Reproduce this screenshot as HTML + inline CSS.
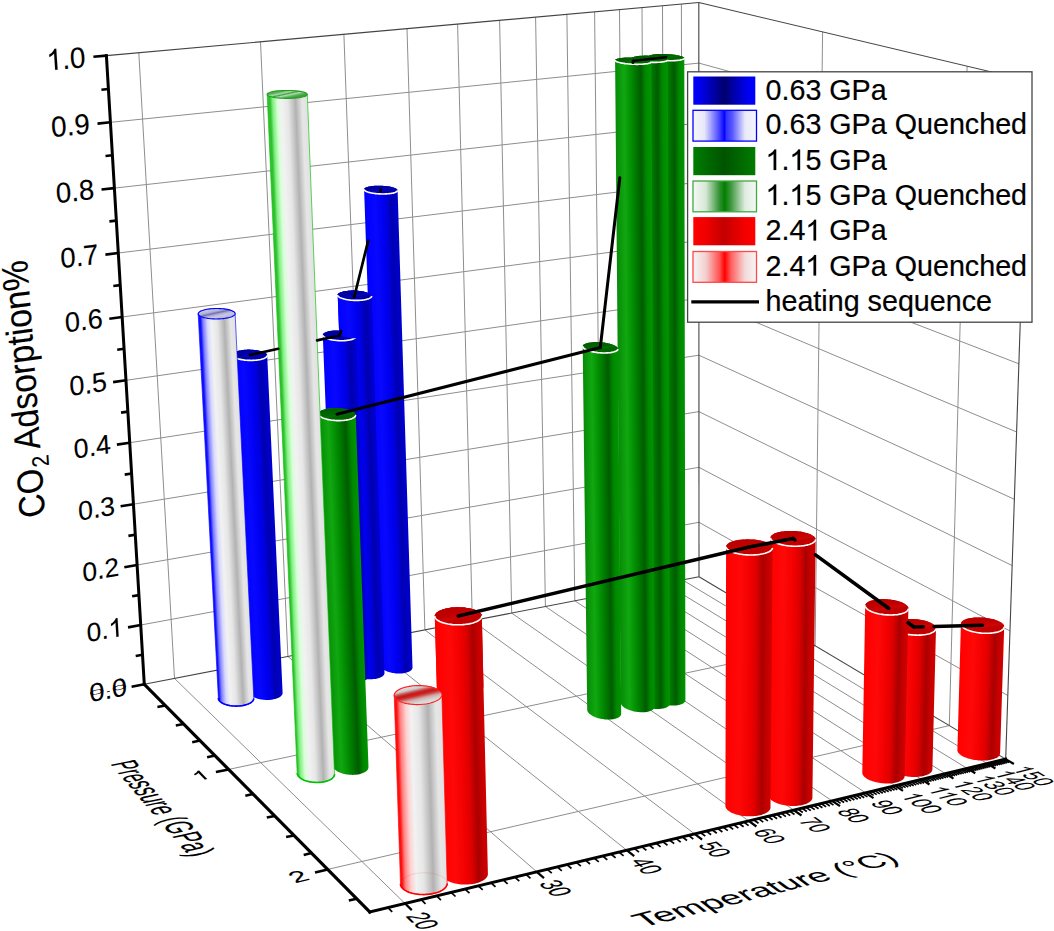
<!DOCTYPE html>
<html><head><meta charset="utf-8"><style>
html,body{margin:0;padding:0;background:#fff;}
svg{display:block;}
text{font-family:"Liberation Sans",sans-serif;fill:#000;}
.t3{font-size:20px;stroke:#000;stroke-width:0.08px;}
.lg{font-size:28.7px;stroke:#000;stroke-width:0.2px;}
.yt{font-size:33px;}
.sub{font-size:21.5px;}
.one{fill:#000;stroke:#000;stroke-width:8px;}
.onel{fill:#000;stroke:#000;stroke-width:14px;}
</style></head><body>
<svg width="1054" height="931" viewBox="0 0 1054 931">
<defs><linearGradient id="g1" gradientUnits="userSpaceOnUse" x1="372.3" y1="427.3" x2="404.9" y2="426.3"><stop offset="0" stop-color="#0000ff"/><stop offset="0.3" stop-color="#0808ff"/><stop offset="0.52" stop-color="#0000f2"/><stop offset="0.66" stop-color="#0000dc"/><stop offset="0.8" stop-color="#0000ae"/><stop offset="0.9" stop-color="#0000c4"/><stop offset="1" stop-color="#0000d0"/></linearGradient>
<linearGradient id="g2" gradientUnits="userSpaceOnUse" x1="380.1" y1="185.7" x2="381.6" y2="193.9"><stop offset="0" stop-color="#00009c"/><stop offset="0.4" stop-color="#0000aa"/><stop offset="0.55" stop-color="#0606b4"/><stop offset="0.75" stop-color="#0000a8"/><stop offset="1" stop-color="#0000aa"/></linearGradient>
<linearGradient id="g3" gradientUnits="userSpaceOnUse" x1="344.8" y1="483" x2="377.9" y2="481.8"><stop offset="0" stop-color="#0000ff"/><stop offset="0.3" stop-color="#0808ff"/><stop offset="0.52" stop-color="#0000f2"/><stop offset="0.66" stop-color="#0000dc"/><stop offset="0.8" stop-color="#0000ae"/><stop offset="0.9" stop-color="#0000c4"/><stop offset="1" stop-color="#0000d0"/></linearGradient>
<linearGradient id="g4" gradientUnits="userSpaceOnUse" x1="353.7" y1="290.7" x2="355.5" y2="300.3"><stop offset="0" stop-color="#00009c"/><stop offset="0.4" stop-color="#0000aa"/><stop offset="0.55" stop-color="#0606b4"/><stop offset="0.75" stop-color="#0000a8"/><stop offset="1" stop-color="#0000aa"/></linearGradient>
<linearGradient id="g5" gradientUnits="userSpaceOnUse" x1="329.5" y1="504.5" x2="362.2" y2="503.3"><stop offset="0" stop-color="#0000ff"/><stop offset="0.3" stop-color="#0808ff"/><stop offset="0.52" stop-color="#0000f2"/><stop offset="0.66" stop-color="#0000dc"/><stop offset="0.8" stop-color="#0000ae"/><stop offset="0.9" stop-color="#0000c4"/><stop offset="1" stop-color="#0000d0"/></linearGradient>
<linearGradient id="g6" gradientUnits="userSpaceOnUse" x1="338.6" y1="330.4" x2="340.4" y2="340.6"><stop offset="0" stop-color="#00009c"/><stop offset="0.4" stop-color="#0000aa"/><stop offset="0.55" stop-color="#0606b4"/><stop offset="0.75" stop-color="#0000a8"/><stop offset="1" stop-color="#0000aa"/></linearGradient>
<linearGradient id="g7" gradientUnits="userSpaceOnUse" x1="338.4" y1="313.8" x2="372.1" y2="312.6"><stop offset="0" stop-color="#0000ff"/><stop offset="0.3" stop-color="#0808ff"/><stop offset="0.52" stop-color="#0000f2"/><stop offset="0.66" stop-color="#0000dc"/><stop offset="0.8" stop-color="#0000ae"/><stop offset="0.9" stop-color="#0000c4"/><stop offset="1" stop-color="#0000d0"/></linearGradient>
<linearGradient id="g8" gradientUnits="userSpaceOnUse" x1="353.7" y1="290.7" x2="355.5" y2="300.3"><stop offset="0" stop-color="#00009c"/><stop offset="0.4" stop-color="#0000aa"/><stop offset="0.55" stop-color="#0606b4"/><stop offset="0.75" stop-color="#0000a8"/><stop offset="1" stop-color="#0000aa"/></linearGradient>
<linearGradient id="g9" gradientUnits="userSpaceOnUse" x1="241" y1="523.3" x2="274.8" y2="521.7"><stop offset="0" stop-color="#0000ff"/><stop offset="0.3" stop-color="#0808ff"/><stop offset="0.52" stop-color="#0000f2"/><stop offset="0.66" stop-color="#0000dc"/><stop offset="0.8" stop-color="#0000ae"/><stop offset="0.9" stop-color="#0000c4"/><stop offset="1" stop-color="#0000d0"/></linearGradient>
<linearGradient id="g10" gradientUnits="userSpaceOnUse" x1="248.9" y1="349.7" x2="251.1" y2="360.3"><stop offset="0" stop-color="#00009c"/><stop offset="0.4" stop-color="#0000aa"/><stop offset="0.55" stop-color="#0606b4"/><stop offset="0.75" stop-color="#0000a8"/><stop offset="1" stop-color="#0000aa"/></linearGradient>
<linearGradient id="g11" gradientUnits="userSpaceOnUse" x1="649.9" y1="376.2" x2="684.9" y2="376.1"><stop offset="0" stop-color="#088a08"/><stop offset="0.25" stop-color="#10a810"/><stop offset="0.48" stop-color="#008800"/><stop offset="0.72" stop-color="#005c00"/><stop offset="0.86" stop-color="#008800"/><stop offset="1" stop-color="#009400"/></linearGradient>
<linearGradient id="g12" gradientUnits="userSpaceOnUse" x1="665.6" y1="54.1" x2="666.8" y2="60.6"><stop offset="0" stop-color="#005c00"/><stop offset="0.4" stop-color="#006600"/><stop offset="0.55" stop-color="#066e06"/><stop offset="0.75" stop-color="#006400"/><stop offset="1" stop-color="#006600"/></linearGradient>
<linearGradient id="g13" gradientUnits="userSpaceOnUse" x1="633.9" y1="378.7" x2="668.9" y2="378.5"><stop offset="0" stop-color="#088a08"/><stop offset="0.25" stop-color="#10a810"/><stop offset="0.48" stop-color="#008800"/><stop offset="0.72" stop-color="#005c00"/><stop offset="0.86" stop-color="#008800"/><stop offset="1" stop-color="#009400"/></linearGradient>
<linearGradient id="g14" gradientUnits="userSpaceOnUse" x1="649.1" y1="55.7" x2="650.3" y2="62.3"><stop offset="0" stop-color="#005c00"/><stop offset="0.4" stop-color="#006600"/><stop offset="0.55" stop-color="#066e06"/><stop offset="0.75" stop-color="#006400"/><stop offset="1" stop-color="#006600"/></linearGradient>
<linearGradient id="g15" gradientUnits="userSpaceOnUse" x1="208.3" y1="506" x2="244.3" y2="504.2"><stop offset="0" stop-color="#1010ff"/><stop offset="0.04" stop-color="#1010ff"/><stop offset="0.11" stop-color="#8080ff"/><stop offset="0.23" stop-color="#d8d8ff"/><stop offset="0.34" stop-color="#f2f2f2"/><stop offset="0.5" stop-color="#e6e6e6"/><stop offset="0.7" stop-color="#b2b2b2"/><stop offset="0.87" stop-color="#e6e6e6"/><stop offset="1" stop-color="#e2e2e2"/></linearGradient>
<linearGradient id="g16" gradientUnits="userSpaceOnUse" x1="215.5" y1="308.6" x2="217.8" y2="318.9"><stop offset="0" stop-color="#c8c8e0"/><stop offset="0.25" stop-color="#b0b0d0"/><stop offset="0.42" stop-color="#7070b8"/><stop offset="0.55" stop-color="#a8a8d0"/><stop offset="0.75" stop-color="#c8c8e0"/><stop offset="1" stop-color="#b8b8d8"/></linearGradient>
<linearGradient id="g17" gradientUnits="userSpaceOnUse" x1="617.9" y1="381.3" x2="653" y2="381"><stop offset="0" stop-color="#088a08"/><stop offset="0.25" stop-color="#10a810"/><stop offset="0.48" stop-color="#008800"/><stop offset="0.72" stop-color="#005c00"/><stop offset="0.86" stop-color="#008800"/><stop offset="1" stop-color="#009400"/></linearGradient>
<linearGradient id="g18" gradientUnits="userSpaceOnUse" x1="632.6" y1="57.6" x2="633.8" y2="64.2"><stop offset="0" stop-color="#005c00"/><stop offset="0.4" stop-color="#006600"/><stop offset="0.55" stop-color="#066e06"/><stop offset="0.75" stop-color="#006400"/><stop offset="1" stop-color="#006600"/></linearGradient>
<linearGradient id="g19" gradientUnits="userSpaceOnUse" x1="584.9" y1="527.9" x2="619.5" y2="527.5"><stop offset="0" stop-color="#088a08"/><stop offset="0.25" stop-color="#10a810"/><stop offset="0.48" stop-color="#008800"/><stop offset="0.72" stop-color="#005c00"/><stop offset="0.86" stop-color="#008800"/><stop offset="1" stop-color="#009400"/></linearGradient>
<linearGradient id="g20" gradientUnits="userSpaceOnUse" x1="599.6" y1="342.2" x2="601.1" y2="352.8"><stop offset="0" stop-color="#005c00"/><stop offset="0.4" stop-color="#006600"/><stop offset="0.55" stop-color="#066e06"/><stop offset="0.75" stop-color="#006400"/><stop offset="1" stop-color="#006600"/></linearGradient>
<linearGradient id="g21" gradientUnits="userSpaceOnUse" x1="959.1" y1="687" x2="1002.2" y2="688.3"><stop offset="0" stop-color="#ff0000"/><stop offset="0.3" stop-color="#ff0808"/><stop offset="0.52" stop-color="#f20000"/><stop offset="0.66" stop-color="#dc0000"/><stop offset="0.8" stop-color="#aa0000"/><stop offset="0.9" stop-color="#c40000"/><stop offset="1" stop-color="#d00000"/></linearGradient>
<linearGradient id="g22" gradientUnits="userSpaceOnUse" x1="981.4" y1="617.6" x2="983.6" y2="633.1"><stop offset="0" stop-color="#b80000"/><stop offset="0.4" stop-color="#c40000"/><stop offset="0.55" stop-color="#cc0606"/><stop offset="0.75" stop-color="#c00000"/><stop offset="1" stop-color="#c40000"/></linearGradient>
<linearGradient id="g23" gradientUnits="userSpaceOnUse" x1="890.7" y1="695.9" x2="934.2" y2="696.9"><stop offset="0" stop-color="#ff0000"/><stop offset="0.3" stop-color="#ff0808"/><stop offset="0.52" stop-color="#f20000"/><stop offset="0.66" stop-color="#dc0000"/><stop offset="0.8" stop-color="#aa0000"/><stop offset="0.9" stop-color="#c40000"/><stop offset="1" stop-color="#d00000"/></linearGradient>
<linearGradient id="g24" gradientUnits="userSpaceOnUse" x1="912.8" y1="619.1" x2="915.2" y2="635"><stop offset="0" stop-color="#b80000"/><stop offset="0.4" stop-color="#c40000"/><stop offset="0.55" stop-color="#cc0606"/><stop offset="0.75" stop-color="#c00000"/><stop offset="1" stop-color="#c40000"/></linearGradient>
<linearGradient id="g25" gradientUnits="userSpaceOnUse" x1="863.8" y1="689" x2="906.6" y2="689.9"><stop offset="0" stop-color="#ff0000"/><stop offset="0.3" stop-color="#ff0808"/><stop offset="0.52" stop-color="#f20000"/><stop offset="0.66" stop-color="#dc0000"/><stop offset="0.8" stop-color="#aa0000"/><stop offset="0.9" stop-color="#c40000"/><stop offset="1" stop-color="#d00000"/></linearGradient>
<linearGradient id="g26" gradientUnits="userSpaceOnUse" x1="885.7" y1="599.3" x2="888" y2="614.8"><stop offset="0" stop-color="#b80000"/><stop offset="0.4" stop-color="#c40000"/><stop offset="0.55" stop-color="#cc0606"/><stop offset="0.75" stop-color="#c00000"/><stop offset="1" stop-color="#c40000"/></linearGradient>
<linearGradient id="g27" gradientUnits="userSpaceOnUse" x1="325.5" y1="589.3" x2="361.9" y2="587.9"><stop offset="0" stop-color="#088a08"/><stop offset="0.25" stop-color="#10a810"/><stop offset="0.48" stop-color="#008800"/><stop offset="0.72" stop-color="#005c00"/><stop offset="0.86" stop-color="#008800"/><stop offset="1" stop-color="#009400"/></linearGradient>
<linearGradient id="g28" gradientUnits="userSpaceOnUse" x1="335.9" y1="408.2" x2="338.2" y2="420.5"><stop offset="0" stop-color="#005c00"/><stop offset="0.4" stop-color="#006600"/><stop offset="0.55" stop-color="#066e06"/><stop offset="0.75" stop-color="#006400"/><stop offset="1" stop-color="#006600"/></linearGradient>
<linearGradient id="g29" gradientUnits="userSpaceOnUse" x1="282.2" y1="433.8" x2="320.8" y2="432.2"><stop offset="0" stop-color="#30c030"/><stop offset="0.04" stop-color="#30c030"/><stop offset="0.11" stop-color="#80f080"/><stop offset="0.23" stop-color="#d8ffd8"/><stop offset="0.34" stop-color="#f2f2f2"/><stop offset="0.5" stop-color="#e6e6e6"/><stop offset="0.7" stop-color="#b2b2b2"/><stop offset="0.87" stop-color="#e6e6e6"/><stop offset="1" stop-color="#e2e2e2"/></linearGradient>
<linearGradient id="g30" gradientUnits="userSpaceOnUse" x1="286.4" y1="90.5" x2="288.1" y2="98.3"><stop offset="0" stop-color="#58b058"/><stop offset="0.25" stop-color="#a8d8a8"/><stop offset="0.42" stop-color="#40a040"/><stop offset="0.58" stop-color="#b0dcb0"/><stop offset="0.8" stop-color="#60b860"/><stop offset="1" stop-color="#40a040"/></linearGradient>
<linearGradient id="g31" gradientUnits="userSpaceOnUse" x1="769.5" y1="666.5" x2="814" y2="666.9"><stop offset="0" stop-color="#ff0000"/><stop offset="0.3" stop-color="#ff0808"/><stop offset="0.52" stop-color="#f20000"/><stop offset="0.66" stop-color="#dc0000"/><stop offset="0.8" stop-color="#aa0000"/><stop offset="0.9" stop-color="#c40000"/><stop offset="1" stop-color="#d00000"/></linearGradient>
<linearGradient id="g32" gradientUnits="userSpaceOnUse" x1="791.7" y1="531" x2="794.4" y2="546.1"><stop offset="0" stop-color="#b80000"/><stop offset="0.4" stop-color="#c40000"/><stop offset="0.55" stop-color="#cc0606"/><stop offset="0.75" stop-color="#c00000"/><stop offset="1" stop-color="#c40000"/></linearGradient>
<linearGradient id="g33" gradientUnits="userSpaceOnUse" x1="725.8" y1="676.5" x2="771.5" y2="676.8"><stop offset="0" stop-color="#ff0000"/><stop offset="0.3" stop-color="#ff0808"/><stop offset="0.52" stop-color="#f20000"/><stop offset="0.66" stop-color="#dc0000"/><stop offset="0.8" stop-color="#aa0000"/><stop offset="0.9" stop-color="#c40000"/><stop offset="1" stop-color="#d00000"/></linearGradient>
<linearGradient id="g34" gradientUnits="userSpaceOnUse" x1="747.8" y1="539.4" x2="750.8" y2="554.9"><stop offset="0" stop-color="#b80000"/><stop offset="0.4" stop-color="#c40000"/><stop offset="0.55" stop-color="#cc0606"/><stop offset="0.75" stop-color="#c00000"/><stop offset="1" stop-color="#c40000"/></linearGradient>
<linearGradient id="g35" gradientUnits="userSpaceOnUse" x1="438.5" y1="745" x2="484.8" y2="743.8"><stop offset="0" stop-color="#ff0000"/><stop offset="0.3" stop-color="#ff0808"/><stop offset="0.52" stop-color="#f20000"/><stop offset="0.66" stop-color="#dc0000"/><stop offset="0.8" stop-color="#aa0000"/><stop offset="0.9" stop-color="#c40000"/><stop offset="1" stop-color="#d00000"/></linearGradient>
<linearGradient id="g36" gradientUnits="userSpaceOnUse" x1="456.4" y1="607.4" x2="460.2" y2="624.7"><stop offset="0" stop-color="#b80000"/><stop offset="0.4" stop-color="#c40000"/><stop offset="0.55" stop-color="#cc0606"/><stop offset="0.75" stop-color="#c00000"/><stop offset="1" stop-color="#c40000"/></linearGradient>
<linearGradient id="g37" gradientUnits="userSpaceOnUse" x1="397.3" y1="789.5" x2="444.5" y2="788"><stop offset="0" stop-color="#ff1010"/><stop offset="0.04" stop-color="#ff1010"/><stop offset="0.11" stop-color="#ff8080"/><stop offset="0.23" stop-color="#ffd0d0"/><stop offset="0.34" stop-color="#f2f2f2"/><stop offset="0.5" stop-color="#e6e6e6"/><stop offset="0.7" stop-color="#b2b2b2"/><stop offset="0.87" stop-color="#e6e6e6"/><stop offset="1" stop-color="#e2e2e2"/></linearGradient>
<linearGradient id="g38" gradientUnits="userSpaceOnUse" x1="415.9" y1="685.8" x2="420.2" y2="704.3"><stop offset="0" stop-color="#dcdcdc"/><stop offset="0.14" stop-color="#cccccc"/><stop offset="0.3" stop-color="#c84040"/><stop offset="0.4" stop-color="#c81414"/><stop offset="0.52" stop-color="#cc3030"/><stop offset="0.7" stop-color="#d4a8a8"/><stop offset="0.86" stop-color="#d4d4d4"/><stop offset="1" stop-color="#dcdcdc"/></linearGradient>
<linearGradient id="g39" gradientUnits="userSpaceOnUse" x1="435.8" y1="651.3" x2="482.6" y2="650.1"><stop offset="0" stop-color="#ff0000"/><stop offset="0.3" stop-color="#ff0808"/><stop offset="0.52" stop-color="#f20000"/><stop offset="0.66" stop-color="#dc0000"/><stop offset="0.8" stop-color="#aa0000"/><stop offset="0.9" stop-color="#c40000"/><stop offset="1" stop-color="#d00000"/></linearGradient>
<linearGradient id="g40" gradientUnits="userSpaceOnUse" x1="456.4" y1="607.4" x2="460.2" y2="624.7"><stop offset="0" stop-color="#b80000"/><stop offset="0.4" stop-color="#c40000"/><stop offset="0.55" stop-color="#cc0606"/><stop offset="0.75" stop-color="#c00000"/><stop offset="1" stop-color="#c40000"/></linearGradient>
<linearGradient id="g41" gradientUnits="userSpaceOnUse" x1="693.3" y1="0" x2="755.3" y2="0"><stop offset="0" stop-color="#0000ff"/><stop offset="0.12" stop-color="#0000e8"/><stop offset="0.35" stop-color="#0000a0"/><stop offset="0.5" stop-color="#00006c"/><stop offset="0.65" stop-color="#0000a8"/><stop offset="0.88" stop-color="#0000f0"/><stop offset="1" stop-color="#0000ff"/></linearGradient>
<linearGradient id="g42" gradientUnits="userSpaceOnUse" x1="693" y1="0" x2="756.5" y2="0"><stop offset="0" stop-color="#f6f6fa"/><stop offset="0.18" stop-color="#e8e8fa"/><stop offset="0.4" stop-color="#5050ff"/><stop offset="0.5" stop-color="#0000ff"/><stop offset="0.52" stop-color="#3030ff"/><stop offset="0.62" stop-color="#5858ff"/><stop offset="0.82" stop-color="#e8e8fa"/><stop offset="1" stop-color="#f6f6fa"/></linearGradient>
<linearGradient id="g43" gradientUnits="userSpaceOnUse" x1="693.3" y1="0" x2="755.3" y2="0"><stop offset="0" stop-color="#007c00"/><stop offset="0.2" stop-color="#006c00"/><stop offset="0.5" stop-color="#005400"/><stop offset="0.8" stop-color="#006c00"/><stop offset="1" stop-color="#007c00"/></linearGradient>
<linearGradient id="g44" gradientUnits="userSpaceOnUse" x1="693" y1="0" x2="756.5" y2="0"><stop offset="0" stop-color="#f6f8f6"/><stop offset="0.2" stop-color="#d6e8d6"/><stop offset="0.42" stop-color="#309030"/><stop offset="0.5" stop-color="#008000"/><stop offset="0.6" stop-color="#409840"/><stop offset="0.82" stop-color="#e0ece0"/><stop offset="1" stop-color="#f6f8f6"/></linearGradient>
<linearGradient id="g45" gradientUnits="userSpaceOnUse" x1="693.3" y1="0" x2="755.3" y2="0"><stop offset="0" stop-color="#ff0000"/><stop offset="0.2" stop-color="#f00000"/><stop offset="0.5" stop-color="#c40000"/><stop offset="0.8" stop-color="#f00000"/><stop offset="1" stop-color="#ff0000"/></linearGradient>
<linearGradient id="g46" gradientUnits="userSpaceOnUse" x1="693" y1="0" x2="756.5" y2="0"><stop offset="0" stop-color="#f6f6f6"/><stop offset="0.2" stop-color="#f4d0d0"/><stop offset="0.42" stop-color="#ff5050"/><stop offset="0.5" stop-color="#ff0000"/><stop offset="0.6" stop-color="#ff6060"/><stop offset="0.82" stop-color="#f4dada"/><stop offset="1" stop-color="#f6f6f6"/></linearGradient></defs>
<rect width="1054" height="931" fill="#fff"/>
<line x1="174.5" y1="678.4" x2="138.8" y2="52.7" stroke="#8e8e8e" stroke-width="1"/>
<line x1="174.5" y1="678.4" x2="405" y2="903.5" stroke="#8e8e8e" stroke-width="1"/>
<line x1="287.9" y1="656.4" x2="260.5" y2="41.8" stroke="#8e8e8e" stroke-width="1"/>
<line x1="287.9" y1="656.4" x2="536.8" y2="871.8" stroke="#8e8e8e" stroke-width="1"/>
<line x1="365.9" y1="641.3" x2="343.9" y2="34.3" stroke="#8e8e8e" stroke-width="1"/>
<line x1="365.9" y1="641.3" x2="626.7" y2="850.2" stroke="#8e8e8e" stroke-width="1"/>
<line x1="424.9" y1="629.9" x2="407" y2="28.6" stroke="#8e8e8e" stroke-width="1"/>
<line x1="424.9" y1="629.9" x2="694.6" y2="833.9" stroke="#8e8e8e" stroke-width="1"/>
<line x1="472.3" y1="620.7" x2="457.6" y2="24.1" stroke="#8e8e8e" stroke-width="1"/>
<line x1="472.3" y1="620.7" x2="748.7" y2="820.9" stroke="#8e8e8e" stroke-width="1"/>
<line x1="511.7" y1="613.1" x2="499.6" y2="20.4" stroke="#8e8e8e" stroke-width="1"/>
<line x1="511.7" y1="613.1" x2="793.7" y2="810.1" stroke="#8e8e8e" stroke-width="1"/>
<line x1="545.4" y1="606.5" x2="535.6" y2="17.1" stroke="#8e8e8e" stroke-width="1"/>
<line x1="545.4" y1="606.5" x2="832.1" y2="800.9" stroke="#8e8e8e" stroke-width="1"/>
<line x1="574.8" y1="600.8" x2="566.9" y2="14.3" stroke="#8e8e8e" stroke-width="1"/>
<line x1="574.8" y1="600.8" x2="865.5" y2="792.8" stroke="#8e8e8e" stroke-width="1"/>
<line x1="600.9" y1="595.8" x2="594.6" y2="11.9" stroke="#8e8e8e" stroke-width="1"/>
<line x1="600.9" y1="595.8" x2="895.1" y2="785.7" stroke="#8e8e8e" stroke-width="1"/>
<line x1="624.3" y1="591.2" x2="619.5" y2="9.6" stroke="#8e8e8e" stroke-width="1"/>
<line x1="624.3" y1="591.2" x2="921.5" y2="779.4" stroke="#8e8e8e" stroke-width="1"/>
<line x1="645.4" y1="587.1" x2="642" y2="7.6" stroke="#8e8e8e" stroke-width="1"/>
<line x1="645.4" y1="587.1" x2="945.4" y2="773.6" stroke="#8e8e8e" stroke-width="1"/>
<line x1="664.8" y1="583.4" x2="662.5" y2="5.8" stroke="#8e8e8e" stroke-width="1"/>
<line x1="664.8" y1="583.4" x2="967.2" y2="768.4" stroke="#8e8e8e" stroke-width="1"/>
<line x1="682.5" y1="579.9" x2="681.4" y2="4.1" stroke="#8e8e8e" stroke-width="1"/>
<line x1="682.5" y1="579.9" x2="987.2" y2="763.6" stroke="#8e8e8e" stroke-width="1"/>
<line x1="140.8" y1="625" x2="699" y2="522.3" stroke="#8e8e8e" stroke-width="1"/>
<line x1="699" y1="522.3" x2="1007.8" y2="695.5" stroke="#8e8e8e" stroke-width="1"/>
<line x1="137.1" y1="565" x2="698.9" y2="467.3" stroke="#8e8e8e" stroke-width="1"/>
<line x1="698.9" y1="467.3" x2="1010" y2="631" stroke="#8e8e8e" stroke-width="1"/>
<line x1="133.5" y1="504.2" x2="698.9" y2="411.6" stroke="#8e8e8e" stroke-width="1"/>
<line x1="698.9" y1="411.6" x2="1012.2" y2="565.6" stroke="#8e8e8e" stroke-width="1"/>
<line x1="129.8" y1="442.7" x2="698.9" y2="355.2" stroke="#8e8e8e" stroke-width="1"/>
<line x1="698.9" y1="355.2" x2="1014.4" y2="499.3" stroke="#8e8e8e" stroke-width="1"/>
<line x1="126" y1="380.3" x2="698.9" y2="298.2" stroke="#8e8e8e" stroke-width="1"/>
<line x1="698.9" y1="298.2" x2="1016.6" y2="432" stroke="#8e8e8e" stroke-width="1"/>
<line x1="122.2" y1="317" x2="698.9" y2="240.5" stroke="#8e8e8e" stroke-width="1"/>
<line x1="698.9" y1="240.5" x2="1018.9" y2="363.8" stroke="#8e8e8e" stroke-width="1"/>
<line x1="118.3" y1="253" x2="698.9" y2="182.1" stroke="#8e8e8e" stroke-width="1"/>
<line x1="698.9" y1="182.1" x2="1021.2" y2="294.6" stroke="#8e8e8e" stroke-width="1"/>
<line x1="114.4" y1="188.1" x2="698.9" y2="123" stroke="#8e8e8e" stroke-width="1"/>
<line x1="698.9" y1="123" x2="1023.5" y2="224.3" stroke="#8e8e8e" stroke-width="1"/>
<line x1="110.4" y1="122.3" x2="698.9" y2="63.1" stroke="#8e8e8e" stroke-width="1"/>
<line x1="698.9" y1="63.1" x2="1025.9" y2="153" stroke="#8e8e8e" stroke-width="1"/>
<line x1="815.1" y1="645.8" x2="822.6" y2="31.9" stroke="#8e8e8e" stroke-width="1"/>
<line x1="228.7" y1="769.4" x2="815.1" y2="645.8" stroke="#8e8e8e" stroke-width="1"/>
<line x1="949.3" y1="725.6" x2="967.1" y2="66.2" stroke="#8e8e8e" stroke-width="1"/>
<line x1="327.7" y1="869.4" x2="949.3" y2="725.6" stroke="#8e8e8e" stroke-width="1"/>
<line x1="106.4" y1="55.6" x2="698.8" y2="2.5" stroke="#444444" stroke-width="1.1"/>
<line x1="699" y1="576.7" x2="698.8" y2="2.5" stroke="#444444" stroke-width="1.1"/>
<line x1="144.3" y1="684.3" x2="699" y2="576.7" stroke="#444444" stroke-width="1.1"/>
<line x1="698.8" y1="2.5" x2="1028.3" y2="80.7" stroke="#444444" stroke-width="1.1"/>
<line x1="1005.7" y1="759.1" x2="1028.3" y2="80.7" stroke="#444444" stroke-width="1.1"/>
<line x1="699" y1="576.7" x2="1005.7" y2="759.1" stroke="#444444" stroke-width="1.1"/>
<polygon points="364.1,189.3 364.1,189.1 364.2,188.8 364.4,188.6 364.6,188.3 364.9,188 365.3,187.8 365.7,187.6 366.2,187.4 366.8,187.1 367.4,186.9 368.1,186.7 368.8,186.6 369.6,186.4 370.4,186.3 371.3,186.1 372.2,186 373.2,185.9 374.2,185.8 375.2,185.8 376.2,185.7 377.3,185.7 378.3,185.7 379.4,185.7 380.5,185.7 381.6,185.7 382.7,185.8 383.8,185.9 384.8,185.9 385.9,186.1 386.9,186.2 387.9,186.3 388.9,186.5 389.8,186.6 390.7,186.8 391.6,187 392.4,187.2 393.1,187.4 393.9,187.6 394.5,187.9 395.1,188.1 395.7,188.4 396.1,188.6 396.5,188.9 396.9,189.2 397.2,189.4 397.4,189.7 397.5,190 397.6,190.3 412.5,667.3 412.5,667.8 412.4,668.2 412.3,668.7 412.1,669.1 411.8,669.5 411.4,670 411,670.4 410.6,670.7 410,671.1 409.5,671.4 408.8,671.8 408.1,672.1 407.4,672.3 406.6,672.6 405.7,672.8 404.9,673 404,673.2 403,673.3 402,673.4 401,673.5 400,673.5 399,673.5 397.9,673.5 396.9,673.5 395.8,673.4 394.8,673.3 393.8,673.1 392.7,673 391.7,672.8 390.7,672.5 389.8,672.3 388.8,672 387.9,671.7 387.1,671.4 386.2,671 385.5,670.7 384.7,670.3 384.1,669.9 383.4,669.5 382.9,669 382.3,668.6 381.9,668.1 381.5,667.7 381.2,667.2 380.9,666.7 380.8,666.3 380.6,665.8 380.6,665.3" fill="url(#g1)"/>
<polygon points="395.1,188.1 395.7,188.4 396.1,188.6 396.5,188.9 396.9,189.2 397.2,189.4 397.4,189.7 397.5,190 397.6,190.3 397.6,190.5 397.5,190.8 397.3,191.1 397.1,191.3 396.8,191.6 396.4,191.8 396,192 395.5,192.3 395,192.5 394.3,192.7 393.7,192.9 392.9,193.1 392.1,193.2 391.3,193.4 390.4,193.5 389.5,193.6 388.5,193.7 387.5,193.8 386.5,193.9 385.5,193.9 384.4,194 383.3,194 382.2,194 381.1,194 380,193.9 378.9,193.9 377.8,193.8 376.7,193.7 375.7,193.6 374.6,193.5 373.6,193.3 372.6,193.2 371.7,193 370.8,192.8 369.9,192.6 369.1,192.4 368.4,192.2 367.7,192 367,191.7 366.4,191.5 365.9,191.2 365.4,191 365,190.7 364.7,190.4 364.4,190.2 364.2,189.9 364.1,189.6 364.1,189.3 364.1,189.1 364.2,188.8 364.4,188.6 364.6,188.3 364.9,188 365.3,187.8 365.7,187.6 366.2,187.4 366.8,187.1 367.4,186.9 368.1,186.7 368.8,186.6 369.6,186.4 370.4,186.3 371.3,186.1 372.2,186 373.2,185.9 374.2,185.8 375.2,185.8 376.2,185.7 377.3,185.7 378.3,185.7 379.4,185.7 380.5,185.7 381.6,185.7 382.7,185.8 383.8,185.9 384.8,185.9 385.9,186.1 386.9,186.2 387.9,186.3 388.9,186.5 389.8,186.6 390.7,186.8 391.6,187 392.4,187.2 393.1,187.4 393.9,187.6 394.5,187.9" fill="url(#g2)"/>
<polyline points="397.6,190.3 397.6,190.5 397.5,190.8 397.3,191.1 397.1,191.3 396.8,191.6 396.4,191.8 396,192 395.5,192.3 395,192.5 394.3,192.7 393.7,192.9 392.9,193.1 392.1,193.2 391.3,193.4 390.4,193.5 389.5,193.6 388.5,193.7 387.5,193.8 386.5,193.9 385.5,193.9 384.4,194 383.3,194 382.2,194 381.1,194 380,193.9 378.9,193.9 377.8,193.8 376.7,193.7 375.7,193.6 374.6,193.5 373.6,193.3 372.6,193.2 371.7,193 370.8,192.8 369.9,192.6 369.1,192.4 368.4,192.2 367.7,192 367,191.7 366.4,191.5 365.9,191.2 365.4,191 365,190.7 364.7,190.4 364.4,190.2 364.2,189.9 364.1,189.6 364.1,189.3" fill="none" stroke="#fff" stroke-width="1.6"/>
<polygon points="337.7,295 337.7,294.6 337.8,294.3 338,294 338.3,293.7 338.6,293.4 339,293.1 339.5,292.9 340,292.6 340.6,292.4 341.3,292.1 342,291.9 342.7,291.7 343.5,291.5 344.4,291.3 345.3,291.2 346.2,291 347.2,290.9 348.2,290.8 349.3,290.7 350.3,290.7 351.4,290.6 352.5,290.6 353.6,290.6 354.7,290.7 355.8,290.7 356.9,290.8 358,290.8 359,291 360.1,291.1 361.1,291.2 362.1,291.4 363.1,291.6 364,291.8 364.9,292 365.8,292.2 366.6,292.4 367.3,292.7 368,293 368.7,293.2 369.3,293.5 369.8,293.8 370.3,294.1 370.7,294.4 371,294.8 371.2,295.1 371.4,295.4 371.5,295.7 371.6,296 384.5,672.9 384.5,673.4 384.4,673.8 384.2,674.3 384,674.7 383.7,675.2 383.3,675.6 382.9,676 382.4,676.4 381.8,676.8 381.2,677.1 380.5,677.4 379.8,677.8 379,678 378.2,678.3 377.3,678.5 376.4,678.7 375.4,678.9 374.5,679 373.5,679.1 372.4,679.2 371.4,679.3 370.3,679.3 369.3,679.3 368.2,679.2 367.1,679.2 366.1,679 365,678.9 363.9,678.7 362.9,678.5 361.9,678.3 360.9,678.1 360,677.8 359.1,677.5 358.2,677.1 357.4,676.8 356.6,676.4 355.9,676 355.2,675.6 354.6,675.2 354,674.8 353.5,674.3 353.1,673.9 352.7,673.4 352.4,672.9 352.2,672.4 352,672 351.9,671.5 351.9,671" fill="url(#g3)"/>
<polygon points="369.3,293.5 369.8,293.8 370.3,294.1 370.7,294.4 371,294.8 371.2,295.1 371.4,295.4 371.5,295.7 371.6,296 371.5,296.4 371.4,296.7 371.3,297 371,297.3 370.7,297.6 370.3,297.9 369.8,298.1 369.3,298.4 368.7,298.7 368.1,298.9 367.4,299.1 366.6,299.4 365.8,299.5 364.9,299.7 364,299.9 363.1,300 362.1,300.1 361.1,300.2 360,300.3 359,300.4 357.9,300.4 356.8,300.4 355.6,300.4 354.5,300.4 353.4,300.4 352.3,300.3 351.2,300.2 350.1,300.1 349.1,300 348,299.8 347,299.7 346,299.5 345.1,299.3 344.2,299.1 343.3,298.8 342.5,298.6 341.8,298.3 341.1,298.1 340.4,297.8 339.8,297.5 339.3,297.2 338.9,296.9 338.5,296.6 338.2,296.2 338,295.9 337.8,295.6 337.7,295.3 337.7,295 337.7,294.6 337.8,294.3 338,294 338.3,293.7 338.6,293.4 339,293.1 339.5,292.9 340,292.6 340.6,292.4 341.3,292.1 342,291.9 342.7,291.7 343.5,291.5 344.4,291.3 345.3,291.2 346.2,291 347.2,290.9 348.2,290.8 349.3,290.7 350.3,290.7 351.4,290.6 352.5,290.6 353.6,290.6 354.7,290.7 355.8,290.7 356.9,290.8 358,290.8 359,291 360.1,291.1 361.1,291.2 362.1,291.4 363.1,291.6 364,291.8 364.9,292 365.8,292.2 366.6,292.4 367.3,292.7 368,293 368.7,293.2" fill="url(#g4)"/>
<polyline points="371.6,296 371.5,296.4 371.4,296.7 371.3,297 371,297.3 370.7,297.6 370.3,297.9 369.8,298.1 369.3,298.4 368.7,298.7 368.1,298.9 367.4,299.1 366.6,299.4 365.8,299.5 364.9,299.7 364,299.9 363.1,300 362.1,300.1 361.1,300.2 360,300.3 359,300.4 357.9,300.4 356.8,300.4 355.6,300.4 354.5,300.4 353.4,300.4 352.3,300.3 351.2,300.2 350.1,300.1 349.1,300 348,299.8 347,299.7 346,299.5 345.1,299.3 344.2,299.1 343.3,298.8 342.5,298.6 341.8,298.3 341.1,298.1 340.4,297.8 339.8,297.5 339.3,297.2 338.9,296.9 338.5,296.6 338.2,296.2 338,295.9 337.8,295.6 337.7,295.3 337.7,295" fill="none" stroke="#fff" stroke-width="1.6"/>
<polygon points="322.8,334.9 322.9,334.6 323,334.2 323.2,333.9 323.4,333.6 323.8,333.3 324.1,333 324.6,332.7 325.1,332.4 325.7,332.2 326.4,331.9 327,331.7 327.8,331.5 328.6,331.3 329.4,331.1 330.3,330.9 331.3,330.8 332.2,330.7 333.2,330.6 334.2,330.5 335.3,330.4 336.3,330.4 337.4,330.4 338.5,330.4 339.6,330.4 340.6,330.4 341.7,330.5 342.8,330.6 343.8,330.7 344.9,330.9 345.9,331 346.9,331.2 347.8,331.4 348.8,331.6 349.7,331.8 350.5,332.1 351.3,332.3 352,332.6 352.7,332.9 353.4,333.2 354,333.5 354.5,333.8 354.9,334.1 355.3,334.4 355.6,334.8 355.9,335.1 356.1,335.4 356.2,335.8 356.2,336.1 368.5,676.1 368.4,676.6 368.3,677 368.2,677.5 368,677.9 367.7,678.4 367.3,678.8 366.9,679.2 366.4,679.6 365.8,680 365.2,680.3 364.5,680.6 363.8,681 363,681.2 362.2,681.5 361.4,681.7 360.5,681.9 359.5,682.1 358.6,682.2 357.6,682.3 356.6,682.4 355.5,682.5 354.5,682.5 353.4,682.5 352.4,682.4 351.3,682.3 350.2,682.2 349.2,682.1 348.2,681.9 347.1,681.7 346.2,681.5 345.2,681.2 344.3,680.9 343.4,680.6 342.5,680.3 341.7,679.9 340.9,679.6 340.2,679.2 339.5,678.8 338.9,678.3 338.3,677.9 337.9,677.4 337.4,677 337.1,676.5 336.8,676 336.5,675.6 336.4,675.1 336.3,674.6 336.2,674.1" fill="url(#g5)"/>
<polygon points="354,333.5 354.5,333.8 354.9,334.1 355.3,334.4 355.6,334.8 355.9,335.1 356.1,335.4 356.2,335.8 356.2,336.1 356.2,336.4 356.1,336.8 355.9,337.1 355.7,337.4 355.4,337.7 355,338 354.5,338.3 354,338.6 353.4,338.9 352.8,339.1 352.1,339.4 351.3,339.6 350.5,339.8 349.7,340 348.8,340.1 347.9,340.3 346.9,340.4 345.9,340.5 344.9,340.6 343.8,340.7 342.7,340.7 341.6,340.7 340.5,340.7 339.4,340.7 338.3,340.6 337.3,340.5 336.2,340.5 335.1,340.3 334,340.2 333,340 332,339.9 331.1,339.7 330.1,339.5 329.2,339.2 328.4,339 327.6,338.7 326.9,338.4 326.2,338.2 325.5,337.9 325,337.5 324.5,337.2 324,336.9 323.7,336.6 323.3,336.2 323.1,335.9 322.9,335.6 322.8,335.2 322.8,334.9 322.9,334.6 323,334.2 323.2,333.9 323.4,333.6 323.8,333.3 324.1,333 324.6,332.7 325.1,332.4 325.7,332.2 326.4,331.9 327,331.7 327.8,331.5 328.6,331.3 329.4,331.1 330.3,330.9 331.3,330.8 332.2,330.7 333.2,330.6 334.2,330.5 335.3,330.4 336.3,330.4 337.4,330.4 338.5,330.4 339.6,330.4 340.6,330.4 341.7,330.5 342.8,330.6 343.8,330.7 344.9,330.9 345.9,331 346.9,331.2 347.8,331.4 348.8,331.6 349.7,331.8 350.5,332.1 351.3,332.3 352,332.6 352.7,332.9 353.4,333.2" fill="url(#g6)"/>
<polyline points="356.2,336.1 356.2,336.4 356.1,336.8 355.9,337.1 355.7,337.4 355.4,337.7 355,338 354.5,338.3 354,338.6 353.4,338.9 352.8,339.1 352.1,339.4 351.3,339.6 350.5,339.8 349.7,340 348.8,340.1 347.9,340.3 346.9,340.4 345.9,340.5 344.9,340.6 343.8,340.7 342.7,340.7 341.6,340.7 340.5,340.7 339.4,340.7 338.3,340.6 337.3,340.5 336.2,340.5 335.1,340.3 334,340.2 333,340 332,339.9 331.1,339.7 330.1,339.5 329.2,339.2 328.4,339 327.6,338.7 326.9,338.4 326.2,338.2 325.5,337.9 325,337.5 324.5,337.2 324,336.9 323.7,336.6 323.3,336.2 323.1,335.9 322.9,335.6 322.8,335.2 322.8,334.9" fill="none" stroke="#fff" stroke-width="1.6"/>
<polygon points="337.7,295 337.7,294.6 337.8,294.3 338,294 338.3,293.7 338.6,293.4 339,293.1 339.5,292.9 340,292.6 340.6,292.4 341.3,292.1 342,291.9 342.7,291.7 343.5,291.5 344.4,291.3 345.3,291.2 346.2,291 347.2,290.9 348.2,290.8 349.3,290.7 350.3,290.7 351.4,290.6 352.5,290.6 353.6,290.6 354.7,290.7 355.8,290.7 356.9,290.8 358,290.8 359,291 360.1,291.1 361.1,291.2 362.1,291.4 363.1,291.6 364,291.8 364.9,292 365.8,292.2 366.6,292.4 367.3,292.7 368,293 368.7,293.2 369.3,293.5 369.8,293.8 370.3,294.1 370.7,294.4 371,294.8 371.2,295.1 371.4,295.4 371.5,295.7 371.6,296 372.9,333.8 372.8,334.1 372.7,334.4 372.5,334.8 372.3,335.1 372,335.4 371.6,335.7 371.1,336 370.6,336.3 370,336.5 369.4,336.8 368.7,337 367.9,337.2 367.1,337.4 366.3,337.6 365.3,337.8 364.4,337.9 363.4,338.1 362.4,338.2 361.4,338.3 360.3,338.3 359.2,338.4 358.1,338.4 357,338.4 355.9,338.3 354.8,338.3 353.7,338.2 352.6,338.1 351.5,338 350.4,337.9 349.4,337.7 348.4,337.5 347.4,337.4 346.5,337.1 345.6,336.9 344.7,336.7 343.9,336.4 343.2,336.1 342.5,335.9 341.8,335.6 341.3,335.3 340.8,334.9 340.3,334.6 339.9,334.3 339.6,334 339.4,333.6 339.2,333.3 339.1,332.9 339.1,332.6" fill="url(#g7)"/>
<polygon points="369.3,293.5 369.8,293.8 370.3,294.1 370.7,294.4 371,294.8 371.2,295.1 371.4,295.4 371.5,295.7 371.6,296 371.5,296.4 371.4,296.7 371.3,297 371,297.3 370.7,297.6 370.3,297.9 369.8,298.1 369.3,298.4 368.7,298.7 368.1,298.9 367.4,299.1 366.6,299.4 365.8,299.5 364.9,299.7 364,299.9 363.1,300 362.1,300.1 361.1,300.2 360,300.3 359,300.4 357.9,300.4 356.8,300.4 355.6,300.4 354.5,300.4 353.4,300.4 352.3,300.3 351.2,300.2 350.1,300.1 349.1,300 348,299.8 347,299.7 346,299.5 345.1,299.3 344.2,299.1 343.3,298.8 342.5,298.6 341.8,298.3 341.1,298.1 340.4,297.8 339.8,297.5 339.3,297.2 338.9,296.9 338.5,296.6 338.2,296.2 338,295.9 337.8,295.6 337.7,295.3 337.7,295 337.7,294.6 337.8,294.3 338,294 338.3,293.7 338.6,293.4 339,293.1 339.5,292.9 340,292.6 340.6,292.4 341.3,292.1 342,291.9 342.7,291.7 343.5,291.5 344.4,291.3 345.3,291.2 346.2,291 347.2,290.9 348.2,290.8 349.3,290.7 350.3,290.7 351.4,290.6 352.5,290.6 353.6,290.6 354.7,290.7 355.8,290.7 356.9,290.8 358,290.8 359,291 360.1,291.1 361.1,291.2 362.1,291.4 363.1,291.6 364,291.8 364.9,292 365.8,292.2 366.6,292.4 367.3,292.7 368,293 368.7,293.2" fill="url(#g8)"/>
<polyline points="371.6,296 371.5,296.4 371.4,296.7 371.3,297 371,297.3 370.7,297.6 370.3,297.9 369.8,298.1 369.3,298.4 368.7,298.7 368.1,298.9 367.4,299.1 366.6,299.4 365.8,299.5 364.9,299.7 364,299.9 363.1,300 362.1,300.1 361.1,300.2 360,300.3 359,300.4 357.9,300.4 356.8,300.4 355.6,300.4 354.5,300.4 353.4,300.4 352.3,300.3 351.2,300.2 350.1,300.1 349.1,300 348,299.8 347,299.7 346,299.5 345.1,299.3 344.2,299.1 343.3,298.8 342.5,298.6 341.8,298.3 341.1,298.1 340.4,297.8 339.8,297.5 339.3,297.2 338.9,296.9 338.5,296.6 338.2,296.2 338,295.9 337.8,295.6 337.7,295.3 337.7,295" fill="none" stroke="#fff" stroke-width="1.6"/>
<polygon points="232.8,354.8 232.8,354.4 232.9,354.1 233.1,353.7 233.3,353.4 233.7,353 234.1,352.7 234.5,352.4 235,352.1 235.6,351.8 236.3,351.5 237,351.3 237.7,351 238.5,350.8 239.4,350.6 240.3,350.4 241.2,350.2 242.2,350.1 243.2,349.9 244.3,349.8 245.4,349.8 246.4,349.7 247.5,349.6 248.7,349.6 249.8,349.6 250.9,349.7 252,349.7 253.1,349.8 254.2,349.9 255.3,350 256.3,350.1 257.4,350.3 258.4,350.5 259.3,350.7 260.3,350.9 261.1,351.1 262,351.4 262.8,351.6 263.5,351.9 264.2,352.2 264.8,352.5 265.3,352.8 265.8,353.2 266.2,353.5 266.6,353.8 266.8,354.2 267,354.5 267.2,354.9 267.2,355.2 282.6,692.8 282.6,693.3 282.5,693.7 282.3,694.2 282.1,694.7 281.8,695.2 281.5,695.6 281,696.1 280.6,696.5 280,696.9 279.4,697.3 278.7,697.7 278,698 277.2,698.3 276.4,698.6 275.5,698.9 274.6,699.1 273.6,699.3 272.6,699.5 271.6,699.7 270.6,699.8 269.5,699.9 268.4,699.9 267.4,699.9 266.3,699.9 265.2,699.9 264.1,699.8 263,699.7 261.9,699.5 260.9,699.4 259.8,699.2 258.8,698.9 257.8,698.7 256.9,698.4 256,698.1 255.2,697.7 254.3,697.4 253.6,697 252.9,696.6 252.2,696.2 251.6,695.7 251.1,695.3 250.7,694.8 250.3,694.3 249.9,693.8 249.7,693.3 249.5,692.9 249.4,692.4 249.3,691.9" fill="url(#g9)"/>
<polygon points="265.3,352.8 265.8,353.2 266.2,353.5 266.6,353.8 266.8,354.2 267,354.5 267.2,354.9 267.2,355.2 267.2,355.6 267.1,355.9 267,356.3 266.7,356.6 266.4,357 266.1,357.3 265.6,357.6 265.1,357.9 264.5,358.2 263.9,358.5 263.2,358.8 262.4,359 261.6,359.2 260.7,359.5 259.8,359.7 258.9,359.8 257.9,360 256.8,360.1 255.8,360.2 254.7,360.3 253.6,360.4 252.5,360.4 251.4,360.5 250.2,360.4 249.1,360.4 248,360.4 246.8,360.3 245.7,360.2 244.6,360.1 243.6,359.9 242.5,359.8 241.5,359.6 240.6,359.4 239.6,359.2 238.8,358.9 237.9,358.7 237.1,358.4 236.4,358.1 235.7,357.8 235.1,357.5 234.6,357.2 234.1,356.9 233.7,356.5 233.4,356.2 233.1,355.8 232.9,355.5 232.8,355.1 232.8,354.8 232.8,354.4 232.9,354.1 233.1,353.7 233.3,353.4 233.7,353 234.1,352.7 234.5,352.4 235,352.1 235.6,351.8 236.3,351.5 237,351.3 237.7,351 238.5,350.8 239.4,350.6 240.3,350.4 241.2,350.2 242.2,350.1 243.2,349.9 244.3,349.8 245.4,349.8 246.4,349.7 247.5,349.6 248.7,349.6 249.8,349.6 250.9,349.7 252,349.7 253.1,349.8 254.2,349.9 255.3,350 256.3,350.1 257.4,350.3 258.4,350.5 259.3,350.7 260.3,350.9 261.1,351.1 262,351.4 262.8,351.6 263.5,351.9 264.2,352.2 264.8,352.5" fill="url(#g10)"/>
<polyline points="267.2,355.2 267.2,355.6 267.1,355.9 267,356.3 266.7,356.6 266.4,357 266.1,357.3 265.6,357.6 265.1,357.9 264.5,358.2 263.9,358.5 263.2,358.8 262.4,359 261.6,359.2 260.7,359.5 259.8,359.7 258.9,359.8 257.9,360 256.8,360.1 255.8,360.2 254.7,360.3 253.6,360.4 252.5,360.4 251.4,360.5 250.2,360.4 249.1,360.4 248,360.4 246.8,360.3 245.7,360.2 244.6,360.1 243.6,359.9 242.5,359.8 241.5,359.6 240.6,359.4 239.6,359.2 238.8,358.9 237.9,358.7 237.1,358.4 236.4,358.1 235.7,357.8 235.1,357.5 234.6,357.2 234.1,356.9 233.7,356.5 233.4,356.2 233.1,355.8 232.9,355.5 232.8,355.1 232.8,354.8" fill="none" stroke="#fff" stroke-width="1.6"/>
<polygon points="648.2,56.6 648.2,56.3 648.3,56.1 648.5,55.9 648.8,55.7 649.1,55.5 649.5,55.4 650,55.2 650.6,55 651.2,54.9 651.9,54.7 652.6,54.6 653.4,54.5 654.3,54.3 655.2,54.3 656.1,54.2 657.1,54.1 658.2,54 659.2,54 660.3,54 661.5,53.9 662.6,53.9 663.8,54 664.9,54 666.1,54 667.3,54.1 668.4,54.2 669.6,54.2 670.7,54.3 671.9,54.4 673,54.6 674.1,54.7 675.1,54.8 676.1,55 677.1,55.2 678,55.3 678.9,55.5 679.7,55.7 680.4,55.9 681.1,56.1 681.8,56.3 682.4,56.5 682.9,56.7 683.3,57 683.6,57.2 683.9,57.4 684.1,57.6 684.3,57.8 684.3,58.1 685.4,699.9 685.4,700.4 685.3,700.9 685.1,701.3 684.9,701.8 684.6,702.2 684.2,702.6 683.8,703 683.2,703.4 682.7,703.7 682,704 681.3,704.3 680.6,704.6 679.8,704.8 678.9,705 678,705.2 677.1,705.3 676.1,705.4 675.1,705.5 674.1,705.6 673,705.6 671.9,705.6 670.8,705.5 669.7,705.4 668.6,705.3 667.5,705.1 666.4,705 665.3,704.7 664.2,704.5 663.1,704.2 662.1,703.9 661.1,703.6 660.1,703.3 659.1,702.9 658.2,702.5 657.4,702.1 656.6,701.7 655.8,701.2 655.1,700.7 654.4,700.3 653.9,699.8 653.3,699.3 652.9,698.8 652.5,698.3 652.2,697.8 651.9,697.3 651.7,696.8 651.6,696.3 651.6,695.8" fill="url(#g11)"/>
<polygon points="680.4,55.9 681.1,56.1 681.8,56.3 682.4,56.5 682.9,56.7 683.3,57 683.6,57.2 683.9,57.4 684.1,57.6 684.3,57.8 684.3,58.1 684.3,58.3 684.2,58.5 684,58.7 683.8,58.9 683.4,59.1 683,59.3 682.5,59.4 682,59.6 681.4,59.8 680.7,59.9 680,60.1 679.1,60.2 678.3,60.3 677.4,60.4 676.4,60.5 675.4,60.6 674.4,60.6 673.3,60.7 672.2,60.7 671,60.7 669.9,60.7 668.7,60.7 667.5,60.7 666.3,60.6 665.1,60.6 663.9,60.5 662.8,60.4 661.6,60.3 660.5,60.2 659.3,60.1 658.3,59.9 657.2,59.8 656.2,59.6 655.2,59.5 654.3,59.3 653.4,59.1 652.6,58.9 651.9,58.7 651.2,58.5 650.6,58.3 650,58.1 649.5,57.9 649.1,57.6 648.8,57.4 648.5,57.2 648.3,57 648.2,56.8 648.2,56.6 648.2,56.3 648.3,56.1 648.5,55.9 648.8,55.7 649.1,55.5 649.5,55.4 650,55.2 650.6,55 651.2,54.9 651.9,54.7 652.6,54.6 653.4,54.5 654.3,54.3 655.2,54.3 656.1,54.2 657.1,54.1 658.2,54 659.2,54 660.3,54 661.5,53.9 662.6,53.9 663.8,54 664.9,54 666.1,54 667.3,54.1 668.4,54.2 669.6,54.2 670.7,54.3 671.9,54.4 673,54.6 674.1,54.7 675.1,54.8 676.1,55 677.1,55.2 678,55.3 678.9,55.5 679.7,55.7" fill="url(#g12)"/>
<polyline points="684.3,58.1 684.3,58.3 684.2,58.5 684,58.7 683.8,58.9 683.4,59.1 683,59.3 682.5,59.4 682,59.6 681.4,59.8 680.7,59.9 680,60.1 679.1,60.2 678.3,60.3 677.4,60.4 676.4,60.5 675.4,60.6 674.4,60.6 673.3,60.7 672.2,60.7 671,60.7 669.9,60.7 668.7,60.7 667.5,60.7 666.3,60.6 665.1,60.6 663.9,60.5 662.8,60.4 661.6,60.3 660.5,60.2 659.3,60.1 658.3,59.9 657.2,59.8 656.2,59.6 655.2,59.5 654.3,59.3 653.4,59.1 652.6,58.9 651.9,58.7 651.2,58.5 650.6,58.3 650,58.1 649.5,57.9 649.1,57.6 648.8,57.4 648.5,57.2 648.3,57 648.2,56.8 648.2,56.6" fill="none" stroke="#fff" stroke-width="1.6"/>
<polygon points="631.6,58.2 631.7,58 631.8,57.8 632,57.6 632.3,57.4 632.6,57.2 633.1,57 633.6,56.9 634.1,56.7 634.7,56.5 635.4,56.4 636.2,56.3 637,56.1 637.9,56 638.8,55.9 639.7,55.8 640.7,55.8 641.8,55.7 642.8,55.7 643.9,55.6 645.1,55.6 646.2,55.6 647.4,55.6 648.5,55.7 649.7,55.7 650.9,55.8 652.1,55.8 653.2,55.9 654.4,56 655.5,56.1 656.6,56.2 657.7,56.4 658.7,56.5 659.7,56.7 660.7,56.8 661.6,57 662.5,57.2 663.3,57.4 664,57.6 664.7,57.8 665.4,58 665.9,58.2 666.4,58.4 666.8,58.6 667.2,58.9 667.5,59.1 667.7,59.3 667.8,59.5 667.8,59.8 670,703.2 670,703.7 669.9,704.2 669.7,704.7 669.5,705.1 669.1,705.5 668.8,705.9 668.3,706.3 667.8,706.7 667.2,707 666.6,707.4 665.9,707.7 665.1,707.9 664.3,708.2 663.4,708.4 662.5,708.5 661.6,708.7 660.6,708.8 659.6,708.9 658.5,708.9 657.5,708.9 656.4,708.9 655.3,708.9 654.2,708.8 653.1,708.7 651.9,708.5 650.8,708.3 649.7,708.1 648.7,707.9 647.6,707.6 646.5,707.3 645.5,707 644.6,706.6 643.6,706.2 642.7,705.8 641.9,705.4 641.1,705 640.3,704.5 639.6,704.1 639,703.6 638.4,703.1 637.9,702.6 637.4,702.1 637,701.6 636.7,701.1 636.5,700.6 636.3,700.1 636.2,699.6 636.2,699.1" fill="url(#g13)"/>
<polygon points="664,57.6 664.7,57.8 665.4,58 665.9,58.2 666.4,58.4 666.8,58.6 667.2,58.9 667.5,59.1 667.7,59.3 667.8,59.5 667.8,59.8 667.8,60 667.7,60.2 667.5,60.4 667.2,60.6 666.9,60.8 666.5,61 666,61.2 665.5,61.3 664.8,61.5 664.1,61.6 663.4,61.8 662.6,61.9 661.7,62 660.8,62.1 659.8,62.2 658.8,62.3 657.8,62.3 656.7,62.4 655.5,62.4 654.4,62.4 653.2,62.4 652.1,62.4 650.9,62.4 649.7,62.3 648.5,62.3 647.3,62.2 646.1,62.1 645,62 643.8,61.9 642.7,61.8 641.6,61.7 640.6,61.5 639.6,61.4 638.6,61.2 637.7,61 636.8,60.8 636,60.6 635.3,60.4 634.6,60.2 634,60 633.4,59.8 633,59.6 632.6,59.4 632.2,59.1 632,58.9 631.8,58.7 631.7,58.5 631.6,58.2 631.7,58 631.8,57.8 632,57.6 632.3,57.4 632.6,57.2 633.1,57 633.6,56.9 634.1,56.7 634.7,56.5 635.4,56.4 636.2,56.3 637,56.1 637.9,56 638.8,55.9 639.7,55.8 640.7,55.8 641.8,55.7 642.8,55.7 643.9,55.6 645.1,55.6 646.2,55.6 647.4,55.6 648.5,55.7 649.7,55.7 650.9,55.8 652.1,55.8 653.2,55.9 654.4,56 655.5,56.1 656.6,56.2 657.7,56.4 658.7,56.5 659.7,56.7 660.7,56.8 661.6,57 662.5,57.2 663.3,57.4" fill="url(#g14)"/>
<polyline points="667.8,59.8 667.8,60 667.7,60.2 667.5,60.4 667.2,60.6 666.9,60.8 666.5,61 666,61.2 665.5,61.3 664.8,61.5 664.1,61.6 663.4,61.8 662.6,61.9 661.7,62 660.8,62.1 659.8,62.2 658.8,62.3 657.8,62.3 656.7,62.4 655.5,62.4 654.4,62.4 653.2,62.4 652.1,62.4 650.9,62.4 649.7,62.3 648.5,62.3 647.3,62.2 646.1,62.1 645,62 643.8,61.9 642.7,61.8 641.6,61.7 640.6,61.5 639.6,61.4 638.6,61.2 637.7,61 636.8,60.8 636,60.6 635.3,60.4 634.6,60.2 634,60 633.4,59.8 633,59.6 632.6,59.4 632.2,59.1 632,58.9 631.8,58.7 631.7,58.5 631.6,58.2" fill="none" stroke="#fff" stroke-width="1.6"/>
<polygon points="198.2,314 198.2,313.6 198.3,313.3 198.5,313 198.7,312.6 199,312.3 199.4,312 199.9,311.6 200.4,311.3 201,311 201.7,310.7 202.4,310.5 203.2,310.2 204.1,310 205,309.7 205.9,309.5 206.9,309.3 208,309.2 209,309 210.1,308.9 211.3,308.8 212.4,308.7 213.6,308.6 214.8,308.5 216,308.5 217.2,308.5 218.4,308.5 219.6,308.6 220.7,308.6 221.9,308.7 223,308.8 224.2,308.9 225.2,309.1 226.3,309.2 227.3,309.4 228.2,309.6 229.2,309.8 230,310.1 230.8,310.3 231.5,310.6 232.2,310.9 232.8,311.2 233.4,311.5 233.9,311.8 234.3,312.1 234.6,312.4 234.8,312.7 235,313.1 235.1,313.4 253.8,698 253.8,698.5 253.7,699 253.6,699.5 253.4,700 253.1,700.5 252.8,701 252.3,701.5 251.8,701.9 251.3,702.4 250.6,702.8 250,703.2 249.2,703.6 248.4,703.9 247.5,704.3 246.6,704.6 245.6,704.9 244.6,705.1 243.6,705.4 242.5,705.6 241.4,705.7 240.3,705.9 239.2,706 238,706 236.8,706.1 235.7,706.1 234.5,706 233.4,706 232.2,705.9 231.1,705.7 230,705.6 228.9,705.4 227.8,705.1 226.8,704.9 225.9,704.6 224.9,704.3 224,703.9 223.2,703.6 222.4,703.2 221.7,702.8 221.1,702.4 220.5,701.9 220,701.5 219.5,701 219.1,700.5 218.8,700 218.6,699.5 218.4,699 218.4,698.5" fill="url(#g15)"/>
<polyline points="253.8,698.5 253.7,699 253.6,699.5 253.4,700 253.1,700.5 252.8,701 252.3,701.5 251.8,701.9 251.3,702.4 250.6,702.8 250,703.2 249.2,703.6 248.4,703.9 247.5,704.3 246.6,704.6 245.6,704.9 244.6,705.1 243.6,705.4 242.5,705.6 241.4,705.7 240.3,705.9 239.2,706 238,706 236.8,706.1 235.7,706.1 234.5,706 233.4,706 232.2,705.9 231.1,705.7 230,705.6 228.9,705.4 227.8,705.1 226.8,704.9 225.9,704.6 224.9,704.3 224,703.9 223.2,703.6 222.4,703.2 221.7,702.8 221.1,702.4 220.5,701.9 220,701.5 219.5,701 219.1,700.5 218.8,700 218.6,699.5 218.4,699 218.4,698.5 218.4,698" fill="none" stroke="#0000ff" stroke-width="1.6"/>
<polygon points="198.2,314 198.2,313.6 198.3,313.3 198.5,313 198.7,312.6 199,312.3 199.4,312 199.9,311.6 200.4,311.3 201,311 201.7,310.7 202.4,310.5 203.2,310.2 204.1,310 205,309.7 205.9,309.5 206.9,309.3 208,309.2 209,309 210.1,308.9 211.3,308.8 212.4,308.7 213.6,308.6 214.8,308.5 216,308.5 217.2,308.5 218.4,308.5 219.6,308.6 220.7,308.6 221.9,308.7 223,308.8 224.2,308.9 225.2,309.1 226.3,309.2 227.3,309.4 228.2,309.6 229.2,309.8 230,310.1 230.8,310.3 231.5,310.6 232.2,310.9 232.8,311.2 233.4,311.5 233.9,311.8 234.3,312.1 234.6,312.4 234.8,312.7 235,313.1 235.1,313.4 253.8,698 253.8,698.5 253.7,699 253.6,699.5 253.4,700 253.1,700.5 252.8,701 252.3,701.5 251.8,701.9 251.3,702.4 250.6,702.8 250,703.2 249.2,703.6 248.4,703.9 247.5,704.3 246.6,704.6 245.6,704.9 244.6,705.1 243.6,705.4 242.5,705.6 241.4,705.7 240.3,705.9 239.2,706 238,706 236.8,706.1 235.7,706.1 234.5,706 233.4,706 232.2,705.9 231.1,705.7 230,705.6 228.9,705.4 227.8,705.1 226.8,704.9 225.9,704.6 224.9,704.3 224,703.9 223.2,703.6 222.4,703.2 221.7,702.8 221.1,702.4 220.5,701.9 220,701.5 219.5,701 219.1,700.5 218.8,700 218.6,699.5 218.4,699 218.4,698.5" fill="none" stroke="#0000ff" stroke-width="0.8" stroke-opacity="0.8"/>
<polygon points="233.4,311.5 233.9,311.8 234.3,312.1 234.6,312.4 234.8,312.7 235,313.1 235.1,313.4 235.1,313.8 235,314.1 234.9,314.5 234.7,314.8 234.4,315.1 234,315.5 233.5,315.8 233,316.1 232.4,316.4 231.8,316.7 231,317 230.2,317.2 229.4,317.5 228.5,317.7 227.5,317.9 226.5,318.1 225.5,318.3 224.4,318.5 223.3,318.6 222.1,318.7 220.9,318.8 219.7,318.9 218.5,318.9 217.3,319 216.1,319 214.9,319 213.7,318.9 212.5,318.9 211.3,318.8 210.2,318.7 209,318.5 208,318.4 206.9,318.2 205.9,318 204.9,317.8 204,317.6 203.2,317.4 202.4,317.1 201.6,316.8 201,316.6 200.4,316.3 199.8,316 199.4,315.6 199,315.3 198.7,315 198.4,314.7 198.3,314.3 198.2,314 198.2,313.6 198.3,313.3 198.5,313 198.7,312.6 199,312.3 199.4,312 199.9,311.6 200.4,311.3 201,311 201.7,310.7 202.4,310.5 203.2,310.2 204.1,310 205,309.7 205.9,309.5 206.9,309.3 208,309.2 209,309 210.1,308.9 211.3,308.8 212.4,308.7 213.6,308.6 214.8,308.5 216,308.5 217.2,308.5 218.4,308.5 219.6,308.6 220.7,308.6 221.9,308.7 223,308.8 224.2,308.9 225.2,309.1 226.3,309.2 227.3,309.4 228.2,309.6 229.2,309.8 230,310.1 230.8,310.3 231.5,310.6 232.2,310.9 232.8,311.2" fill="url(#g16)" stroke="#0000ff" stroke-width="1.1"/>
<polygon points="615.1,60.1 615.2,59.9 615.3,59.7 615.5,59.5 615.8,59.3 616.2,59.1 616.6,58.9 617.1,58.7 617.7,58.6 618.3,58.4 619,58.3 619.8,58.1 620.6,58 621.4,57.9 622.4,57.8 623.3,57.7 624.3,57.6 625.4,57.6 626.4,57.5 627.5,57.5 628.7,57.5 629.8,57.5 631,57.5 632.2,57.5 633.3,57.6 634.5,57.6 635.7,57.7 636.8,57.8 638,57.9 639.1,58 640.2,58.1 641.3,58.3 642.3,58.4 643.3,58.6 644.3,58.7 645.2,58.9 646.1,59.1 646.9,59.3 647.6,59.5 648.3,59.7 648.9,59.9 649.5,60.1 650,60.3 650.4,60.5 650.7,60.8 651,61 651.2,61.2 651.3,61.4 651.4,61.7 654.6,706.6 654.6,707.1 654.5,707.5 654.3,708 654,708.4 653.7,708.9 653.3,709.3 652.9,709.7 652.3,710 651.7,710.4 651.1,710.7 650.4,711 649.6,711.3 648.8,711.5 647.9,711.7 647,711.9 646.1,712 645.1,712.2 644.1,712.2 643,712.3 642,712.3 640.9,712.3 639.8,712.2 638.7,712.1 637.5,712 636.4,711.8 635.3,711.7 634.2,711.4 633.1,711.2 632.1,710.9 631,710.6 630,710.3 629,709.9 628.1,709.6 627.2,709.2 626.4,708.8 625.6,708.3 624.8,707.9 624.1,707.4 623.5,706.9 622.9,706.4 622.4,705.9 621.9,705.4 621.6,704.9 621.3,704.4 621,703.9 620.9,703.4 620.8,702.9 620.7,702.4" fill="url(#g17)"/>
<polygon points="647.6,59.5 648.3,59.7 648.9,59.9 649.5,60.1 650,60.3 650.4,60.5 650.7,60.8 651,61 651.2,61.2 651.3,61.4 651.4,61.7 651.3,61.9 651.2,62.1 651,62.3 650.7,62.5 650.4,62.7 650,62.9 649.5,63.1 648.9,63.2 648.3,63.4 647.6,63.6 646.8,63.7 646,63.8 645.1,63.9 644.2,64 643.2,64.1 642.2,64.2 641.2,64.3 640.1,64.3 638.9,64.3 637.8,64.4 636.6,64.4 635.4,64.3 634.3,64.3 633.1,64.3 631.9,64.2 630.7,64.1 629.5,64 628.4,64 627.2,63.8 626.1,63.7 625,63.6 624,63.4 623,63.3 622,63.1 621.1,62.9 620.3,62.7 619.5,62.5 618.7,62.3 618,62.1 617.4,61.9 616.9,61.7 616.4,61.5 616,61.3 615.7,61 615.4,60.8 615.2,60.6 615.1,60.4 615.1,60.1 615.2,59.9 615.3,59.7 615.5,59.5 615.8,59.3 616.2,59.1 616.6,58.9 617.1,58.7 617.7,58.6 618.3,58.4 619,58.3 619.8,58.1 620.6,58 621.4,57.9 622.4,57.8 623.3,57.7 624.3,57.6 625.4,57.6 626.4,57.5 627.5,57.5 628.7,57.5 629.8,57.5 631,57.5 632.2,57.5 633.3,57.6 634.5,57.6 635.7,57.7 636.8,57.8 638,57.9 639.1,58 640.2,58.1 641.3,58.3 642.3,58.4 643.3,58.6 644.3,58.7 645.2,58.9 646.1,59.1 646.9,59.3" fill="url(#g18)"/>
<polyline points="651.4,61.7 651.3,61.9 651.2,62.1 651,62.3 650.7,62.5 650.4,62.7 650,62.9 649.5,63.1 648.9,63.2 648.3,63.4 647.6,63.6 646.8,63.7 646,63.8 645.1,63.9 644.2,64 643.2,64.1 642.2,64.2 641.2,64.3 640.1,64.3 638.9,64.3 637.8,64.4 636.6,64.4 635.4,64.3 634.3,64.3 633.1,64.3 631.9,64.2 630.7,64.1 629.5,64 628.4,64 627.2,63.8 626.1,63.7 625,63.6 624,63.4 623,63.3 622,63.1 621.1,62.9 620.3,62.7 619.5,62.5 618.7,62.3 618,62.1 617.4,61.9 616.9,61.7 616.4,61.5 616,61.3 615.7,61 615.4,60.8 615.2,60.6 615.1,60.4 615.1,60.1" fill="none" stroke="#fff" stroke-width="1.6"/>
<polygon points="582.7,346.1 582.8,345.8 582.9,345.5 583.1,345.1 583.4,344.8 583.8,344.5 584.2,344.2 584.7,343.9 585.3,343.7 585.9,343.4 586.6,343.2 587.4,343 588.2,342.8 589,342.7 589.9,342.5 590.9,342.4 591.9,342.3 592.9,342.2 593.9,342.1 595,342.1 596.1,342.1 597.2,342.1 598.4,342.1 599.5,342.2 600.7,342.3 601.8,342.4 603,342.5 604.1,342.6 605.2,342.8 606.3,343 607.4,343.2 608.4,343.4 609.4,343.6 610.4,343.9 611.3,344.2 612.2,344.4 613,344.7 613.8,345.1 614.5,345.4 615.1,345.7 615.7,346.1 616.3,346.4 616.7,346.7 617.1,347.1 617.4,347.5 617.7,347.8 617.9,348.2 618,348.5 618,348.9 621.2,713.8 621.1,714.3 621,714.8 620.8,715.2 620.5,715.7 620.2,716.1 619.8,716.5 619.3,716.9 618.8,717.3 618.2,717.7 617.5,718 616.8,718.3 616,718.5 615.2,718.8 614.3,719 613.4,719.2 612.4,719.3 611.4,719.4 610.4,719.5 609.3,719.6 608.2,719.6 607.1,719.6 606,719.5 604.9,719.4 603.8,719.3 602.7,719.1 601.6,718.9 600.5,718.7 599.4,718.5 598.3,718.2 597.3,717.9 596.3,717.6 595.3,717.2 594.4,716.8 593.5,716.4 592.7,716 591.9,715.6 591.1,715.1 590.4,714.6 589.8,714.1 589.2,713.7 588.7,713.1 588.3,712.6 587.9,712.1 587.7,711.6 587.4,711.1 587.3,710.6 587.2,710.1 587.2,709.6" fill="url(#g19)"/>
<polygon points="614.5,345.4 615.1,345.7 615.7,346.1 616.3,346.4 616.7,346.7 617.1,347.1 617.4,347.5 617.7,347.8 617.9,348.2 618,348.5 618,348.9 617.9,349.2 617.8,349.6 617.6,349.9 617.3,350.2 617,350.5 616.5,350.8 616,351.1 615.5,351.4 614.8,351.6 614.2,351.8 613.4,352 612.6,352.2 611.7,352.4 610.8,352.6 609.9,352.7 608.9,352.8 607.8,352.9 606.8,352.9 605.7,353 604.5,353 603.4,353 602.3,353 601.1,352.9 599.9,352.8 598.8,352.7 597.6,352.6 596.5,352.4 595.3,352.3 594.2,352.1 593.2,351.9 592.1,351.7 591.1,351.4 590.1,351.1 589.2,350.9 588.3,350.6 587.5,350.3 586.7,350 586,349.6 585.4,349.3 584.8,349 584.3,348.6 583.8,348.3 583.5,347.9 583.2,347.5 582.9,347.2 582.8,346.8 582.7,346.5 582.7,346.1 582.8,345.8 582.9,345.5 583.1,345.1 583.4,344.8 583.8,344.5 584.2,344.2 584.7,343.9 585.3,343.7 585.9,343.4 586.6,343.2 587.4,343 588.2,342.8 589,342.7 589.9,342.5 590.9,342.4 591.9,342.3 592.9,342.2 593.9,342.1 595,342.1 596.1,342.1 597.2,342.1 598.4,342.1 599.5,342.2 600.7,342.3 601.8,342.4 603,342.5 604.1,342.6 605.2,342.8 606.3,343 607.4,343.2 608.4,343.4 609.4,343.6 610.4,343.9 611.3,344.2 612.2,344.4 613,344.7 613.8,345.1" fill="url(#g20)"/>
<polyline points="618,348.9 617.9,349.2 617.8,349.6 617.6,349.9 617.3,350.2 617,350.5 616.5,350.8 616,351.1 615.5,351.4 614.8,351.6 614.2,351.8 613.4,352 612.6,352.2 611.7,352.4 610.8,352.6 609.9,352.7 608.9,352.8 607.8,352.9 606.8,352.9 605.7,353 604.5,353 603.4,353 602.3,353 601.1,352.9 599.9,352.8 598.8,352.7 597.6,352.6 596.5,352.4 595.3,352.3 594.2,352.1 593.2,351.9 592.1,351.7 591.1,351.4 590.1,351.1 589.2,350.9 588.3,350.6 587.5,350.3 586.7,350 586,349.6 585.4,349.3 584.8,349 584.3,348.6 583.8,348.3 583.5,347.9 583.2,347.5 582.9,347.2 582.8,346.8 582.7,346.5 582.7,346.1" fill="none" stroke="#fff" stroke-width="1.6"/>
<polygon points="957.4,750.1 960.9,623.9 960.9,623.4 961.1,622.9 961.3,622.4 961.6,621.9 962,621.5 962.5,621 963.1,620.6 963.8,620.2 964.5,619.8 965.3,619.5 966.2,619.1 967.2,618.8 968.2,618.5 969.3,618.3 970.4,618.1 971.6,617.9 972.9,617.7 974.1,617.6 975.5,617.5 976.8,617.4 978.2,617.4 979.6,617.4 980.9,617.5 982.4,617.5 983.8,617.6 985.2,617.8 986.5,618 987.9,618.2 989.3,618.4 990.6,618.7 991.9,618.9 993.1,619.3 994.3,619.6 995.5,620 996.6,620.4 997.6,620.8 998.6,621.2 999.5,621.7 1000.4,622.1 1001.1,622.6 1001.8,623.1 1002.4,623.6 1002.9,624.1 1003.4,624.6 1003.7,625.1 1004,625.7 1004.1,626.2 1004.2,626.7 1000.1,753.3 1000,753.8 999.9,754.4 999.7,755 999.4,755.5 999,756 998.5,756.5 998,757 997.3,757.4 996.6,757.9 995.8,758.3 994.9,758.6 993.9,759 992.9,759.3 991.8,759.6 990.7,759.8 989.5,760 988.3,760.2 987,760.4 985.7,760.5 984.4,760.5 983,760.6 981.6,760.6 980.2,760.5 978.8,760.4 977.4,760.3 976,760.1 974.6,759.9 973.2,759.7 971.9,759.4 970.6,759.1 969.3,758.8 968,758.4 966.8,758 965.7,757.6 964.6,757.2 963.6,756.7 962.6,756.2 961.7,755.7 960.9,755.2 960.2,754.6 959.5,754.1 959,753.5 958.5,753 958.1,752.4 957.8,751.8 957.5,751.2 957.4,750.7" fill="url(#g21)"/>
<polygon points="999.5,621.7 1000.4,622.1 1001.1,622.6 1001.8,623.1 1002.4,623.6 1002.9,624.1 1003.4,624.6 1003.7,625.1 1004,625.7 1004.1,626.2 1004.2,626.7 1004.2,627.2 1004,627.7 1003.8,628.2 1003.5,628.7 1003.1,629.2 1002.6,629.6 1002.1,630 1001.4,630.5 1000.7,630.8 999.9,631.2 999,631.6 998,631.9 997,632.2 995.9,632.4 994.7,632.6 993.5,632.8 992.3,633 991,633.1 989.7,633.2 988.3,633.3 986.9,633.3 985.5,633.3 984.1,633.3 982.6,633.2 981.2,633.1 979.8,632.9 978.4,632.8 977,632.5 975.6,632.3 974.3,632 973,631.7 971.7,631.4 970.5,631.1 969.4,630.7 968.3,630.3 967.2,629.9 966.3,629.4 965.4,629 964.5,628.5 963.8,628 963.1,627.5 962.5,627 962,626.5 961.6,626 961.3,625.5 961.1,624.9 960.9,624.4 960.9,623.9 960.9,623.4 961.1,622.9 961.3,622.4 961.6,621.9 962,621.5 962.5,621 963.1,620.6 963.8,620.2 964.5,619.8 965.3,619.5 966.2,619.1 967.2,618.8 968.2,618.5 969.3,618.3 970.4,618.1 971.6,617.9 972.9,617.7 974.1,617.6 975.5,617.5 976.8,617.4 978.2,617.4 979.6,617.4 980.9,617.5 982.4,617.5 983.8,617.6 985.2,617.8 986.5,618 987.9,618.2 989.3,618.4 990.6,618.7 991.9,618.9 993.1,619.3 994.3,619.6 995.5,620 996.6,620.4 997.6,620.8 998.6,621.2" fill="url(#g22)"/>
<polyline points="1004.2,626.7 1004.2,627.2 1004,627.7 1003.8,628.2 1003.5,628.7 1003.1,629.2 1002.6,629.6 1002.1,630 1001.4,630.5 1000.7,630.8 999.9,631.2 999,631.6 998,631.9 997,632.2 995.9,632.4 994.7,632.6 993.5,632.8 992.3,633 991,633.1 989.7,633.2 988.3,633.3 986.9,633.3 985.5,633.3 984.1,633.3 982.6,633.2 981.2,633.1 979.8,632.9 978.4,632.8 977,632.5 975.6,632.3 974.3,632 973,631.7 971.7,631.4 970.5,631.1 969.4,630.7 968.3,630.3 967.2,629.9 966.3,629.4 965.4,629 964.5,628.5 963.8,628 963.1,627.5 962.5,627 962,626.5 961.6,626 961.3,625.5 961.1,624.9 960.9,624.4 960.9,623.9" fill="none" stroke="#fff" stroke-width="1.6"/>
<polygon points="889.2,766.2 892.1,625.6 892.2,625.1 892.4,624.6 892.6,624.1 893,623.6 893.5,623.1 894,622.7 894.6,622.2 895.3,621.8 896.1,621.4 897,621.1 897.9,620.7 898.9,620.4 900,620.1 901.1,619.9 902.3,619.6 903.5,619.5 904.8,619.3 906.1,619.2 907.4,619.1 908.8,619 910.2,619 911.6,619 913,619 914.4,619.1 915.9,619.2 917.3,619.3 918.7,619.5 920.1,619.7 921.4,620 922.7,620.2 924,620.5 925.3,620.8 926.5,621.2 927.6,621.6 928.7,622 929.7,622.4 930.7,622.8 931.6,623.3 932.4,623.8 933.2,624.2 933.8,624.7 934.4,625.3 934.9,625.8 935.3,626.3 935.6,626.8 935.8,627.4 935.9,627.9 936,628.4 932.4,769.5 932.3,770 932.2,770.6 931.9,771.2 931.6,771.7 931.1,772.2 930.6,772.8 930,773.2 929.3,773.7 928.6,774.2 927.7,774.6 926.8,775 925.8,775.3 924.8,775.6 923.6,775.9 922.5,776.2 921.2,776.4 920,776.6 918.7,776.7 917.3,776.9 916,776.9 914.6,777 913.2,776.9 911.7,776.9 910.3,776.8 908.9,776.7 907.5,776.5 906.1,776.3 904.7,776.1 903.4,775.8 902,775.5 900.8,775.1 899.5,774.8 898.3,774.4 897.2,773.9 896.1,773.5 895.1,773 894.2,772.5 893.3,772 892.5,771.4 891.8,770.9 891.2,770.3 890.6,769.7 890.2,769.2 889.8,768.6 889.5,768 889.3,767.4 889.2,766.8" fill="url(#g23)"/>
<polygon points="931.6,623.3 932.4,623.8 933.2,624.2 933.8,624.7 934.4,625.3 934.9,625.8 935.3,626.3 935.6,626.8 935.8,627.4 935.9,627.9 936,628.4 935.9,628.9 935.7,629.4 935.5,629.9 935.1,630.4 934.7,630.9 934.2,631.4 933.6,631.8 932.9,632.2 932.1,632.6 931.2,633 930.3,633.4 929.3,633.7 928.2,634 927.1,634.2 925.9,634.5 924.7,634.7 923.4,634.8 922.1,635 920.7,635.1 919.3,635.1 917.9,635.2 916.4,635.1 915,635.1 913.6,635 912.1,634.9 910.7,634.8 909.3,634.6 907.9,634.4 906.5,634.1 905.1,633.9 903.8,633.6 902.6,633.2 901.4,632.9 900.2,632.5 899.1,632.1 898.1,631.7 897.2,631.2 896.3,630.7 895.5,630.3 894.7,629.8 894.1,629.3 893.5,628.7 893.1,628.2 892.7,627.7 892.4,627.2 892.2,626.6 892.1,626.1 892.1,625.6 892.2,625.1 892.4,624.6 892.6,624.1 893,623.6 893.5,623.1 894,622.7 894.6,622.2 895.3,621.8 896.1,621.4 897,621.1 897.9,620.7 898.9,620.4 900,620.1 901.1,619.9 902.3,619.6 903.5,619.5 904.8,619.3 906.1,619.2 907.4,619.1 908.8,619 910.2,619 911.6,619 913,619 914.4,619.1 915.9,619.2 917.3,619.3 918.7,619.5 920.1,619.7 921.4,620 922.7,620.2 924,620.5 925.3,620.8 926.5,621.2 927.6,621.6 928.7,622 929.7,622.4 930.7,622.8" fill="url(#g24)"/>
<polyline points="936,628.4 935.9,628.9 935.7,629.4 935.5,629.9 935.1,630.4 934.7,630.9 934.2,631.4 933.6,631.8 932.9,632.2 932.1,632.6 931.2,633 930.3,633.4 929.3,633.7 928.2,634 927.1,634.2 925.9,634.5 924.7,634.7 923.4,634.8 922.1,635 920.7,635.1 919.3,635.1 917.9,635.2 916.4,635.1 915,635.1 913.6,635 912.1,634.9 910.7,634.8 909.3,634.6 907.9,634.4 906.5,634.1 905.1,633.9 903.8,633.6 902.6,633.2 901.4,632.9 900.2,632.5 899.1,632.1 898.1,631.7 897.2,631.2 896.3,630.7 895.5,630.3 894.7,629.8 894.1,629.3 893.5,628.7 893.1,628.2 892.7,627.7 892.4,627.2 892.2,626.6 892.1,626.1 892.1,625.6" fill="none" stroke="#fff" stroke-width="1.6"/>
<polygon points="862.3,772.6 865.2,605.5 865.3,605 865.5,604.5 865.7,604 866.1,603.6 866.5,603.1 867.1,602.7 867.7,602.2 868.3,601.8 869.1,601.5 870,601.1 870.9,600.8 871.8,600.5 872.9,600.2 874,600 875.1,599.7 876.3,599.6 877.6,599.4 878.9,599.3 880.2,599.2 881.5,599.1 882.9,599.1 884.3,599.1 885.7,599.2 887.1,599.3 888.5,599.4 889.9,599.5 891.3,599.7 892.6,599.9 894,600.1 895.3,600.4 896.6,600.7 897.8,601 899,601.4 900.1,601.7 901.2,602.1 902.2,602.6 903.2,603 904.1,603.4 904.9,603.9 905.6,604.4 906.3,604.9 906.8,605.4 907.3,605.9 907.7,606.4 908,606.9 908.3,607.5 908.4,608 908.4,608.5 904.7,776.1 904.6,776.7 904.5,777.2 904.3,777.8 903.9,778.3 903.5,778.9 903,779.4 902.4,779.9 901.8,780.3 901,780.8 900.2,781.2 899.3,781.6 898.3,781.9 897.3,782.2 896.2,782.5 895.1,782.8 893.9,783 892.6,783.2 891.3,783.3 890,783.4 888.7,783.5 887.3,783.5 885.9,783.5 884.5,783.4 883.1,783.3 881.7,783.2 880.4,783 879,782.8 877.6,782.5 876.3,782.3 875,781.9 873.7,781.6 872.5,781.2 871.4,780.8 870.2,780.4 869.2,779.9 868.2,779.4 867.2,778.9 866.4,778.4 865.6,777.8 864.9,777.3 864.3,776.7 863.7,776.1 863.3,775.5 862.9,774.9 862.6,774.3 862.4,773.7 862.3,773.2" fill="url(#g25)"/>
<polygon points="904.1,603.4 904.9,603.9 905.6,604.4 906.3,604.9 906.8,605.4 907.3,605.9 907.7,606.4 908,606.9 908.3,607.5 908.4,608 908.4,608.5 908.4,609 908.2,609.5 908,610 907.7,610.5 907.2,610.9 906.7,611.4 906.1,611.8 905.5,612.2 904.7,612.6 903.9,613 902.9,613.3 902,613.6 900.9,613.9 899.8,614.1 898.6,614.4 897.4,614.6 896.2,614.7 894.9,614.8 893.5,614.9 892.1,615 890.8,615 889.3,615 887.9,614.9 886.5,614.9 885.1,614.7 883.7,614.6 882.3,614.4 880.9,614.2 879.5,614 878.2,613.7 876.9,613.4 875.7,613 874.5,612.7 873.3,612.3 872.3,611.9 871.3,611.5 870.3,611 869.4,610.6 868.6,610.1 867.9,609.6 867.3,609.1 866.7,608.6 866.2,608.1 865.9,607.6 865.6,607.1 865.4,606.5 865.3,606 865.2,605.5 865.3,605 865.5,604.5 865.7,604 866.1,603.6 866.5,603.1 867.1,602.7 867.7,602.2 868.3,601.8 869.1,601.5 870,601.1 870.9,600.8 871.8,600.5 872.9,600.2 874,600 875.1,599.7 876.3,599.6 877.6,599.4 878.9,599.3 880.2,599.2 881.5,599.1 882.9,599.1 884.3,599.1 885.7,599.2 887.1,599.3 888.5,599.4 889.9,599.5 891.3,599.7 892.6,599.9 894,600.1 895.3,600.4 896.6,600.7 897.8,601 899,601.4 900.1,601.7 901.2,602.1 902.2,602.6 903.2,603" fill="url(#g26)"/>
<polyline points="908.4,608.5 908.4,609 908.2,609.5 908,610 907.7,610.5 907.2,610.9 906.7,611.4 906.1,611.8 905.5,612.2 904.7,612.6 903.9,613 902.9,613.3 902,613.6 900.9,613.9 899.8,614.1 898.6,614.4 897.4,614.6 896.2,614.7 894.9,614.8 893.5,614.9 892.1,615 890.8,615 889.3,615 887.9,614.9 886.5,614.9 885.1,614.7 883.7,614.6 882.3,614.4 880.9,614.2 879.5,614 878.2,613.7 876.9,613.4 875.7,613 874.5,612.7 873.3,612.3 872.3,611.9 871.3,611.5 870.3,611 869.4,610.6 868.6,610.1 867.9,609.6 867.3,609.1 866.7,608.6 866.2,608.1 865.9,607.6 865.6,607.1 865.4,606.5 865.3,606 865.2,605.5" fill="none" stroke="#fff" stroke-width="1.6"/>
<polygon points="318.4,413.6 318.5,413.2 318.6,412.8 318.8,412.4 319.2,412 319.5,411.7 320,411.3 320.5,410.9 321.1,410.6 321.8,410.3 322.5,410 323.3,409.7 324.2,409.4 325.1,409.2 326,409 327,408.8 328.1,408.6 329.1,408.5 330.3,408.3 331.4,408.2 332.6,408.2 333.7,408.1 334.9,408.1 336.1,408.1 337.4,408.1 338.6,408.2 339.8,408.3 341,408.4 342.1,408.5 343.3,408.7 344.4,408.8 345.5,409.1 346.6,409.3 347.6,409.5 348.6,409.8 349.5,410.1 350.4,410.4 351.2,410.7 351.9,411.1 352.6,411.4 353.3,411.8 353.8,412.2 354.3,412.6 354.7,413 355.1,413.4 355.3,413.8 355.5,414.2 355.6,414.6 355.7,415 368.5,767.2 368.4,767.8 368.3,768.3 368.1,768.9 367.8,769.4 367.5,769.9 367.1,770.4 366.6,770.9 366,771.4 365.4,771.8 364.7,772.2 363.9,772.6 363.1,773 362.2,773.3 361.3,773.6 360.3,773.9 359.3,774.2 358.3,774.4 357.2,774.5 356.1,774.7 354.9,774.8 353.8,774.8 352.6,774.9 351.4,774.8 350.2,774.8 349.1,774.7 347.9,774.6 346.7,774.4 345.6,774.2 344.4,774 343.3,773.7 342.3,773.4 341.2,773.1 340.3,772.7 339.3,772.3 338.4,771.9 337.6,771.5 336.8,771 336,770.5 335.4,770 334.8,769.5 334.2,769 333.8,768.4 333.4,767.9 333.1,767.3 332.8,766.8 332.7,766.2 332.6,765.6 318.4,414" fill="url(#g27)"/>
<polygon points="353.3,411.8 353.8,412.2 354.3,412.6 354.7,413 355.1,413.4 355.3,413.8 355.5,414.2 355.6,414.6 355.7,415 355.6,415.4 355.5,415.8 355.3,416.2 355,416.6 354.6,417 354.1,417.3 353.6,417.7 353,418 352.4,418.4 351.6,418.7 350.9,419 350,419.2 349.1,419.5 348.1,419.7 347.1,419.9 346.1,420.1 345,420.2 343.9,420.4 342.7,420.5 341.5,420.5 340.3,420.6 339.1,420.6 337.9,420.6 336.6,420.6 335.4,420.5 334.2,420.4 333,420.3 331.8,420.2 330.6,420 329.5,419.8 328.4,419.6 327.3,419.4 326.3,419.1 325.3,418.8 324.4,418.5 323.5,418.2 322.7,417.9 321.9,417.6 321.3,417.2 320.6,416.8 320.1,416.4 319.6,416 319.2,415.6 318.9,415.2 318.7,414.8 318.5,414.4 318.4,414 318.4,413.6 318.5,413.2 318.6,412.8 318.8,412.4 319.2,412 319.5,411.7 320,411.3 320.5,410.9 321.1,410.6 321.8,410.3 322.5,410 323.3,409.7 324.2,409.4 325.1,409.2 326,409 327,408.8 328.1,408.6 329.1,408.5 330.3,408.3 331.4,408.2 332.6,408.2 333.7,408.1 334.9,408.1 336.1,408.1 337.4,408.1 338.6,408.2 339.8,408.3 341,408.4 342.1,408.5 343.3,408.7 344.4,408.8 345.5,409.1 346.6,409.3 347.6,409.5 348.6,409.8 349.5,410.1 350.4,410.4 351.2,410.7 351.9,411.1 352.6,411.4" fill="url(#g28)"/>
<polyline points="355.7,415 355.6,415.4 355.5,415.8 355.3,416.2 355,416.6 354.6,417 354.1,417.3 353.6,417.7 353,418 352.4,418.4 351.6,418.7 350.9,419 350,419.2 349.1,419.5 348.1,419.7 347.1,419.9 346.1,420.1 345,420.2 343.9,420.4 342.7,420.5 341.5,420.5 340.3,420.6 339.1,420.6 337.9,420.6 336.6,420.6 335.4,420.5 334.2,420.4 333,420.3 331.8,420.2 330.6,420 329.5,419.8 328.4,419.6 327.3,419.4 326.3,419.1 325.3,418.8 324.4,418.5 323.5,418.2 322.7,417.9 321.9,417.6 321.3,417.2 320.6,416.8 320.1,416.4 319.6,416 319.2,415.6 318.9,415.2 318.7,414.8 318.5,414.4 318.4,414 318.4,413.6" fill="none" stroke="#fff" stroke-width="1.6"/>
<polygon points="267.2,94.4 267.2,94.2 267.3,93.9 267.6,93.6 267.8,93.4 268.2,93.1 268.7,92.9 269.2,92.7 269.8,92.4 270.5,92.2 271.3,92 272.1,91.8 273,91.6 274,91.4 275,91.3 276,91.1 277.1,91 278.3,90.9 279.5,90.8 280.7,90.7 281.9,90.6 283.2,90.5 284.5,90.5 285.8,90.5 287.1,90.5 288.4,90.5 289.7,90.5 290.9,90.5 292.2,90.6 293.5,90.7 294.7,90.7 295.9,90.9 297,91 298.1,91.1 299.2,91.3 300.2,91.4 301.2,91.6 302.1,91.8 302.9,92 303.7,92.2 304.4,92.4 305.1,92.6 305.6,92.9 306.1,93.1 306.5,93.4 306.8,93.6 307,93.9 307.2,94.1 307.3,94.4 334.5,773.9 334.5,774.5 334.4,775.1 334.3,775.7 334,776.2 333.7,776.8 333.3,777.3 332.8,777.8 332.3,778.3 331.6,778.8 330.9,779.3 330.2,779.7 329.4,780.1 328.5,780.5 327.6,780.8 326.6,781.2 325.5,781.4 324.5,781.7 323.4,781.9 322.2,782.1 321.1,782.2 319.9,782.4 318.6,782.4 317.4,782.5 316.2,782.5 315,782.4 313.7,782.3 312.5,782.2 311.3,782 310.1,781.9 309,781.6 307.8,781.4 306.7,781.1 305.7,780.7 304.7,780.4 303.7,780 302.8,779.6 302,779.1 301.2,778.7 300.4,778.2 299.8,777.7 299.2,777.1 298.7,776.6 298.2,776.1 297.9,775.5 297.6,774.9 297.4,774.3 297.2,773.8 297.2,773.2" fill="url(#g29)"/>
<polyline points="334.5,773.9 334.5,774.5 334.4,775.1 334.3,775.7 334,776.2 333.7,776.8 333.3,777.3 332.8,777.8 332.3,778.3 331.6,778.8 330.9,779.3 330.2,779.7 329.4,780.1 328.5,780.5 327.6,780.8 326.6,781.2 325.5,781.4 324.5,781.7 323.4,781.9 322.2,782.1 321.1,782.2 319.9,782.4 318.6,782.4 317.4,782.5 316.2,782.5 315,782.4 313.7,782.3 312.5,782.2 311.3,782 310.1,781.9 309,781.6 307.8,781.4 306.7,781.1 305.7,780.7 304.7,780.4 303.7,780 302.8,779.6 302,779.1 301.2,778.7 300.4,778.2 299.8,777.7 299.2,777.1 298.7,776.6 298.2,776.1 297.9,775.5 297.6,774.9 297.4,774.3 297.2,773.8 297.2,773.2" fill="none" stroke="#00c000" stroke-width="1.6"/>
<polygon points="267.2,94.4 267.2,94.2 267.3,93.9 267.6,93.6 267.8,93.4 268.2,93.1 268.7,92.9 269.2,92.7 269.8,92.4 270.5,92.2 271.3,92 272.1,91.8 273,91.6 274,91.4 275,91.3 276,91.1 277.1,91 278.3,90.9 279.5,90.8 280.7,90.7 281.9,90.6 283.2,90.5 284.5,90.5 285.8,90.5 287.1,90.5 288.4,90.5 289.7,90.5 290.9,90.5 292.2,90.6 293.5,90.7 294.7,90.7 295.9,90.9 297,91 298.1,91.1 299.2,91.3 300.2,91.4 301.2,91.6 302.1,91.8 302.9,92 303.7,92.2 304.4,92.4 305.1,92.6 305.6,92.9 306.1,93.1 306.5,93.4 306.8,93.6 307,93.9 307.2,94.1 307.3,94.4 334.5,773.9 334.5,774.5 334.4,775.1 334.3,775.7 334,776.2 333.7,776.8 333.3,777.3 332.8,777.8 332.3,778.3 331.6,778.8 330.9,779.3 330.2,779.7 329.4,780.1 328.5,780.5 327.6,780.8 326.6,781.2 325.5,781.4 324.5,781.7 323.4,781.9 322.2,782.1 321.1,782.2 319.9,782.4 318.6,782.4 317.4,782.5 316.2,782.5 315,782.4 313.7,782.3 312.5,782.2 311.3,782 310.1,781.9 309,781.6 307.8,781.4 306.7,781.1 305.7,780.7 304.7,780.4 303.7,780 302.8,779.6 302,779.1 301.2,778.7 300.4,778.2 299.8,777.7 299.2,777.1 298.7,776.6 298.2,776.1 297.9,775.5 297.6,774.9 297.4,774.3 297.2,773.8 297.2,773.2" fill="none" stroke="#00c000" stroke-width="0.8" stroke-opacity="0.8"/>
<polygon points="305.1,92.6 305.6,92.9 306.1,93.1 306.5,93.4 306.8,93.6 307,93.9 307.2,94.1 307.3,94.4 307.2,94.6 307.1,94.9 306.9,95.2 306.7,95.4 306.3,95.7 305.8,95.9 305.3,96.2 304.7,96.4 304,96.6 303.3,96.8 302.5,97 301.6,97.2 300.6,97.4 299.6,97.6 298.5,97.7 297.4,97.9 296.3,98 295.1,98.1 293.8,98.2 292.6,98.3 291.3,98.3 290,98.4 288.7,98.4 287.3,98.4 286,98.4 284.7,98.4 283.4,98.3 282.1,98.3 280.8,98.2 279.6,98.1 278.4,98 277.2,97.9 276.1,97.7 275,97.6 274,97.4 273.1,97.2 272.1,97 271.3,96.8 270.5,96.6 269.8,96.4 269.2,96.2 268.7,95.9 268.2,95.7 267.8,95.4 267.5,95.2 267.3,94.9 267.2,94.7 267.2,94.4 267.2,94.2 267.3,93.9 267.6,93.6 267.8,93.4 268.2,93.1 268.7,92.9 269.2,92.7 269.8,92.4 270.5,92.2 271.3,92 272.1,91.8 273,91.6 274,91.4 275,91.3 276,91.1 277.1,91 278.3,90.9 279.5,90.8 280.7,90.7 281.9,90.6 283.2,90.5 284.5,90.5 285.8,90.5 287.1,90.5 288.4,90.5 289.7,90.5 290.9,90.5 292.2,90.6 293.5,90.7 294.7,90.7 295.9,90.9 297,91 298.1,91.1 299.2,91.3 300.2,91.4 301.2,91.6 302.1,91.8 302.9,92 303.7,92.2 304.4,92.4" fill="url(#g30)" stroke="#22a022" stroke-width="1.1"/>
<polygon points="768.6,795.3 770.5,537.7 770.5,537.2 770.7,536.7 770.9,536.2 771.3,535.8 771.7,535.3 772.2,534.9 772.9,534.4 773.5,534 774.3,533.6 775.2,533.3 776.1,532.9 777.1,532.6 778.2,532.3 779.3,532 780.5,531.8 781.8,531.6 783.1,531.4 784.4,531.2 785.8,531.1 787.2,531 788.6,530.9 790,530.9 791.5,530.9 792.9,530.9 794.4,531 795.9,531.1 797.3,531.2 798.7,531.4 800.1,531.6 801.5,531.8 802.9,532.1 804.2,532.4 805.4,532.7 806.6,533 807.7,533.3 808.8,533.7 809.8,534.1 810.8,534.5 811.6,535 812.4,535.4 813.1,535.9 813.8,536.3 814.3,536.8 814.7,537.3 815.1,537.8 815.3,538.3 815.5,538.8 815.6,539.3 812.4,797.5 812.4,798.1 812.3,798.7 812,799.3 811.7,799.9 811.3,800.5 810.8,801.1 810.2,801.6 809.6,802.1 808.8,802.6 808,803.1 807.1,803.5 806.1,803.9 805,804.3 803.9,804.6 802.8,804.9 801.5,805.2 800.3,805.4 799,805.6 797.6,805.8 796.2,805.9 794.8,806 793.4,806 792,806 790.5,805.9 789.1,805.8 787.6,805.7 786.2,805.5 784.8,805.3 783.4,805.1 782.1,804.8 780.7,804.4 779.5,804.1 778.3,803.7 777.1,803.3 776,802.8 774.9,802.3 773.9,801.8 773,801.3 772.2,800.8 771.5,800.2 770.8,799.6 770.2,799 769.7,798.4 769.3,797.8 769,797.2 768.7,796.6 768.6,795.9" fill="url(#g31)"/>
<polygon points="811.6,535 812.4,535.4 813.1,535.9 813.8,536.3 814.3,536.8 814.7,537.3 815.1,537.8 815.3,538.3 815.5,538.8 815.6,539.3 815.5,539.8 815.4,540.3 815.2,540.8 814.9,541.3 814.4,541.7 813.9,542.2 813.3,542.6 812.7,543 811.9,543.4 811,543.8 810.1,544.2 809.1,544.5 808,544.8 806.9,545.1 805.7,545.3 804.4,545.6 803.1,545.7 801.7,545.9 800.4,546 798.9,546.1 797.5,546.2 796,546.2 794.5,546.2 793.1,546.2 791.6,546.1 790.1,546 788.6,545.9 787.2,545.7 785.8,545.5 784.4,545.3 783,545 781.7,544.7 780.4,544.4 779.2,544.1 778.1,543.7 777,543.3 776,542.9 775.1,542.5 774.2,542.1 773.4,541.6 772.8,541.1 772.2,540.7 771.6,540.2 771.2,539.7 770.9,539.2 770.7,538.7 770.5,538.2 770.5,537.7 770.5,537.2 770.7,536.7 770.9,536.2 771.3,535.8 771.7,535.3 772.2,534.9 772.9,534.4 773.5,534 774.3,533.6 775.2,533.3 776.1,532.9 777.1,532.6 778.2,532.3 779.3,532 780.5,531.8 781.8,531.6 783.1,531.4 784.4,531.2 785.8,531.1 787.2,531 788.6,530.9 790,530.9 791.5,530.9 792.9,530.9 794.4,531 795.9,531.1 797.3,531.2 798.7,531.4 800.1,531.6 801.5,531.8 802.9,532.1 804.2,532.4 805.4,532.7 806.6,533 807.7,533.3 808.8,533.7 809.8,534.1 810.8,534.5" fill="url(#g32)"/>
<polyline points="815.6,539.3 815.5,539.8 815.4,540.3 815.2,540.8 814.9,541.3 814.4,541.7 813.9,542.2 813.3,542.6 812.7,543 811.9,543.4 811,543.8 810.1,544.2 809.1,544.5 808,544.8 806.9,545.1 805.7,545.3 804.4,545.6 803.1,545.7 801.7,545.9 800.4,546 798.9,546.1 797.5,546.2 796,546.2 794.5,546.2 793.1,546.2 791.6,546.1 790.1,546 788.6,545.9 787.2,545.7 785.8,545.5 784.4,545.3 783,545 781.7,544.7 780.4,544.4 779.2,544.1 778.1,543.7 777,543.3 776,542.9 775.1,542.5 774.2,542.1 773.4,541.6 772.8,541.1 772.2,540.7 771.6,540.2 771.2,539.7 770.9,539.2 770.7,538.7 770.5,538.2 770.5,537.7" fill="none" stroke="#fff" stroke-width="1.6"/>
<polygon points="725.4,806.2 726.1,546.9 726.1,546.4 726.2,545.9 726.4,545.4 726.7,544.9 727.1,544.4 727.6,543.9 728.2,543.5 728.9,543 729.6,542.6 730.5,542.2 731.4,541.8 732.4,541.4 733.5,541.1 734.6,540.8 735.8,540.5 737,540.3 738.3,540 739.7,539.8 741.1,539.7 742.5,539.5 744,539.4 745.4,539.4 746.9,539.3 748.4,539.3 749.9,539.4 751.4,539.4 752.9,539.5 754.4,539.6 755.9,539.8 757.3,540 758.7,540.2 760.1,540.5 761.4,540.7 762.6,541 763.8,541.4 765,541.7 766.1,542.1 767.1,542.5 768,542.9 768.9,543.4 769.6,543.8 770.3,544.3 770.9,544.8 771.4,545.3 771.8,545.8 772.2,546.3 772.4,546.8 772.5,547.3 772.5,547.8 770.5,807.5 770.5,808.2 770.3,808.8 770,809.4 769.6,810 769.2,810.6 768.6,811.2 768,811.7 767.3,812.2 766.5,812.8 765.6,813.2 764.6,813.7 763.6,814.1 762.4,814.5 761.3,814.9 760,815.2 758.8,815.5 757.4,815.7 756.1,815.9 754.7,816.1 753.2,816.2 751.8,816.3 750.3,816.3 748.8,816.3 747.3,816.3 745.8,816.2 744.4,816 742.9,815.9 741.5,815.7 740.1,815.4 738.7,815.1 737.3,814.8 736.1,814.4 734.8,814 733.7,813.6 732.5,813.2 731.5,812.7 730.5,812.2 729.6,811.6 728.8,811.1 728.1,810.5 727.4,809.9 726.8,809.3 726.4,808.7 726,808.1 725.7,807.4 725.5,806.8" fill="url(#g33)"/>
<polygon points="768.9,543.4 769.6,543.8 770.3,544.3 770.9,544.8 771.4,545.3 771.8,545.8 772.2,546.3 772.4,546.8 772.5,547.3 772.5,547.8 772.4,548.3 772.3,548.8 772,549.3 771.6,549.8 771.1,550.3 770.6,550.8 769.9,551.2 769.2,551.7 768.3,552.1 767.4,552.5 766.4,552.8 765.3,553.2 764.2,553.5 763,553.8 761.7,554 760.4,554.3 759.1,554.5 757.6,554.7 756.2,554.8 754.7,554.9 753.2,555 751.7,555 750.2,555 748.6,555 747.1,554.9 745.6,554.8 744.1,554.7 742.6,554.5 741.2,554.3 739.8,554.1 738.4,553.8 737.1,553.5 735.8,553.2 734.6,552.9 733.4,552.5 732.4,552.1 731.4,551.7 730.4,551.3 729.6,550.8 728.8,550.4 728.2,549.9 727.6,549.4 727.1,548.9 726.7,548.4 726.4,547.9 726.2,547.4 726.1,546.9 726.1,546.4 726.2,545.9 726.4,545.4 726.7,544.9 727.1,544.4 727.6,543.9 728.2,543.5 728.9,543 729.6,542.6 730.5,542.2 731.4,541.8 732.4,541.4 733.5,541.1 734.6,540.8 735.8,540.5 737,540.3 738.3,540 739.7,539.8 741.1,539.7 742.5,539.5 744,539.4 745.4,539.4 746.9,539.3 748.4,539.3 749.9,539.4 751.4,539.4 752.9,539.5 754.4,539.6 755.9,539.8 757.3,540 758.7,540.2 760.1,540.5 761.4,540.7 762.6,541 763.8,541.4 765,541.7 766.1,542.1 767.1,542.5 768,542.9" fill="url(#g34)"/>
<polyline points="772.5,547.8 772.4,548.3 772.3,548.8 772,549.3 771.6,549.8 771.1,550.3 770.6,550.8 769.9,551.2 769.2,551.7 768.3,552.1 767.4,552.5 766.4,552.8 765.3,553.2 764.2,553.5 763,553.8 761.7,554 760.4,554.3 759.1,554.5 757.6,554.7 756.2,554.8 754.7,554.9 753.2,555 751.7,555 750.2,555 748.6,555 747.1,554.9 745.6,554.8 744.1,554.7 742.6,554.5 741.2,554.3 739.8,554.1 738.4,553.8 737.1,553.5 735.8,553.2 734.6,552.9 733.4,552.5 732.4,552.1 731.4,551.7 730.4,551.3 729.6,550.8 728.8,550.4 728.2,549.9 727.6,549.4 727.1,548.9 726.7,548.4 726.4,547.9 726.2,547.4 726.1,546.9" fill="none" stroke="#fff" stroke-width="1.6"/>
<polygon points="434.8,616.2 434.8,615.6 435,615 435.2,614.5 435.6,613.9 436,613.3 436.5,612.8 437.2,612.3 437.9,611.8 438.7,611.3 439.5,610.8 440.5,610.4 441.5,610 442.6,609.6 443.8,609.2 445.1,608.8 446.3,608.5 447.7,608.3 449.1,608 450.5,607.8 451.9,607.6 453.4,607.5 454.9,607.4 456.4,607.3 458,607.3 459.5,607.3 461,607.4 462.5,607.4 464,607.6 465.5,607.7 466.9,607.9 468.3,608.1 469.7,608.4 471,608.7 472.2,609 473.4,609.3 474.6,609.7 475.6,610.1 476.6,610.6 477.6,611 478.4,611.5 479.1,612 479.8,612.5 480.4,613 480.9,613.6 481.2,614.1 481.5,614.7 481.7,615.3 481.8,615.8 487.9,873.7 487.9,874.4 487.8,875.1 487.6,875.8 487.3,876.4 486.9,877.1 486.4,877.8 485.8,878.4 485.1,879.1 484.3,879.7 483.5,880.2 482.6,880.8 481.6,881.3 480.5,881.8 479.4,882.3 478.2,882.7 476.9,883.1 475.6,883.4 474.2,883.7 472.8,883.9 471.4,884.2 469.9,884.3 468.4,884.5 466.9,884.5 465.4,884.6 463.9,884.5 462.4,884.5 460.9,884.4 459.5,884.2 458,884 456.6,883.8 455.2,883.5 453.9,883.2 452.6,882.8 451.4,882.4 450.2,881.9 449.1,881.5 448,880.9 447.1,880.4 446.2,879.8 445.4,879.2 444.6,878.6 444,878 443.5,877.3 443,876.7 442.7,876 442.4,875.3 442.3,874.6 442.2,873.9" fill="url(#g35)"/>
<polygon points="479.1,612 479.8,612.5 480.4,613 480.9,613.6 481.2,614.1 481.5,614.7 481.7,615.3 481.8,615.8 481.8,616.4 481.7,617 481.5,617.6 481.1,618.1 480.7,618.7 480.2,619.2 479.6,619.7 478.9,620.3 478.1,620.8 477.3,621.2 476.3,621.7 475.3,622.1 474.2,622.5 473,622.9 471.7,623.3 470.4,623.6 469.1,623.9 467.7,624.1 466.3,624.3 464.8,624.5 463.3,624.6 461.7,624.8 460.2,624.8 458.7,624.8 457.1,624.8 455.6,624.8 454,624.7 452.5,624.6 451,624.4 449.6,624.2 448.1,624 446.8,623.7 445.4,623.4 444.2,623.1 443,622.7 441.8,622.4 440.8,621.9 439.8,621.5 438.9,621 438,620.5 437.3,620 436.7,619.5 436.1,619 435.6,618.4 435.3,617.9 435,617.3 434.9,616.7 434.8,616.2 434.8,615.6 435,615 435.2,614.5 435.6,613.9 436,613.3 436.5,612.8 437.2,612.3 437.9,611.8 438.7,611.3 439.5,610.8 440.5,610.4 441.5,610 442.6,609.6 443.8,609.2 445.1,608.8 446.3,608.5 447.7,608.3 449.1,608 450.5,607.8 451.9,607.6 453.4,607.5 454.9,607.4 456.4,607.3 458,607.3 459.5,607.3 461,607.4 462.5,607.4 464,607.6 465.5,607.7 466.9,607.9 468.3,608.1 469.7,608.4 471,608.7 472.2,609 473.4,609.3 474.6,609.7 475.6,610.1 476.6,610.6 477.6,611 478.4,611.5" fill="url(#g36)"/>
<polyline points="481.8,615.8 481.8,616.4 481.7,617 481.5,617.6 481.1,618.1 480.7,618.7 480.2,619.2 479.6,619.7 478.9,620.3 478.1,620.8 477.3,621.2 476.3,621.7 475.3,622.1 474.2,622.5 473,622.9 471.7,623.3 470.4,623.6 469.1,623.9 467.7,624.1 466.3,624.3 464.8,624.5 463.3,624.6 461.7,624.8 460.2,624.8 458.7,624.8 457.1,624.8 455.6,624.8 454,624.7 452.5,624.6 451,624.4 449.6,624.2 448.1,624 446.8,623.7 445.4,623.4 444.2,623.1 443,622.7 441.8,622.4 440.8,621.9 439.8,621.5 438.9,621 438,620.5 437.3,620 436.7,619.5 436.1,619 435.6,618.4 435.3,617.9 435,617.3 434.9,616.7 434.8,616.2" fill="none" stroke="#fff" stroke-width="1.6"/>
<polygon points="394.2,695.2 394.3,694.6 394.5,694 394.7,693.4 395.1,692.8 395.6,692.2 396.2,691.6 396.8,691 397.6,690.5 398.4,689.9 399.3,689.4 400.3,688.9 401.4,688.5 402.6,688.1 403.8,687.7 405,687.3 406.4,687 407.7,686.7 409.2,686.4 410.6,686.2 412.1,686 413.6,685.8 415.1,685.7 416.7,685.6 418.2,685.6 419.8,685.6 421.3,685.6 422.8,685.7 424.3,685.9 425.8,686 427.3,686.2 428.7,686.5 430,686.7 431.4,687 432.6,687.4 433.8,687.8 434.9,688.2 436,688.6 437,689.1 437.9,689.6 438.7,690.1 439.4,690.6 440.1,691.2 440.6,691.7 441.1,692.3 441.4,692.9 441.7,693.5 441.8,694.2 441.9,694.8 447.2,883.4 447.2,884.1 447,884.8 446.8,885.5 446.4,886.2 446,886.9 445.5,887.6 444.8,888.2 444.1,888.9 443.3,889.5 442.4,890.1 441.4,890.6 440.4,891.2 439.3,891.7 438.1,892.2 436.8,892.6 435.5,893 434.1,893.3 432.7,893.6 431.3,893.9 429.8,894.1 428.3,894.3 426.8,894.4 425.3,894.5 423.7,894.6 422.2,894.5 420.6,894.5 419.1,894.4 417.6,894.2 416.2,894 414.7,893.8 413.3,893.5 412,893.2 410.7,892.8 409.4,892.4 408.2,891.9 407.1,891.5 406.1,890.9 405.1,890.4 404.3,889.8 403.5,889.2 402.8,888.6 402.1,887.9 401.6,887.3 401.2,886.6 400.9,885.9 400.6,885.2 400.5,884.5 400.5,883.8" fill="url(#g37)"/>
<polygon points="444.8,878.6 445.4,879.2 445.9,879.9 446.4,880.6 446.7,881.3 447,882 447.2,882.7 447.2,883.4 447.2,884.1 447,884.8 446.8,885.5 446.4,886.2 446,886.9 445.5,887.6 444.8,888.2 444.1,888.9 443.3,889.5 442.4,890.1 441.4,890.6 440.4,891.2 439.3,891.7 438.1,892.2 436.8,892.6 435.5,893 434.1,893.3 432.7,893.6 431.3,893.9 429.8,894.1 428.3,894.3 426.8,894.4 425.3,894.5 423.7,894.6 422.2,894.5 420.6,894.5 419.1,894.4 417.6,894.2 416.2,894 414.7,893.8 413.3,893.5 412,893.2 410.7,892.8 409.4,892.4 408.2,891.9 407.1,891.5 406.1,890.9 405.1,890.4 404.3,889.8 403.5,889.2 402.8,888.6 402.1,887.9 401.6,887.3 401.2,886.6 400.9,885.9 400.6,885.2 400.5,884.5 400.5,883.8 400.6,883 400.7,882.3 401,881.6 401.4,880.9 401.8,880.3 402.4,879.6 403,878.9 403.8,878.3 404.6,877.7 405.5,877.1 406.5,876.6 407.5,876 408.6,875.6 409.8,875.1 411.1,874.7 412.4,874.3 413.7,874 415.1,873.7 416.5,873.4 418,873.2 419.4,873 420.9,872.9 422.5,872.8 424,872.8 425.5,872.8 427,872.8 428.5,872.9 430,873.1 431.4,873.3 432.8,873.5 434.2,873.8 435.5,874.1 436.8,874.5 438.1,874.9 439.2,875.3 440.4,875.8 441.4,876.3 442.4,876.8 443.2,877.4 444.1,878" fill="none" stroke="#ff0000" stroke-width="1" stroke-opacity="0.12"/>
<polyline points="447.2,883.4 447.2,884.1 447,884.8 446.8,885.5 446.4,886.2 446,886.9 445.5,887.6 444.8,888.2 444.1,888.9 443.3,889.5 442.4,890.1 441.4,890.6 440.4,891.2 439.3,891.7 438.1,892.2 436.8,892.6 435.5,893 434.1,893.3 432.7,893.6 431.3,893.9 429.8,894.1 428.3,894.3 426.8,894.4 425.3,894.5 423.7,894.6 422.2,894.5 420.6,894.5 419.1,894.4 417.6,894.2 416.2,894 414.7,893.8 413.3,893.5 412,893.2 410.7,892.8 409.4,892.4 408.2,891.9 407.1,891.5 406.1,890.9 405.1,890.4 404.3,889.8 403.5,889.2 402.8,888.6 402.1,887.9 401.6,887.3 401.2,886.6 400.9,885.9 400.6,885.2 400.5,884.5 400.5,883.8" fill="none" stroke="#ff0000" stroke-width="1.6"/>
<polygon points="394.2,695.2 394.3,694.6 394.5,694 394.7,693.4 395.1,692.8 395.6,692.2 396.2,691.6 396.8,691 397.6,690.5 398.4,689.9 399.3,689.4 400.3,688.9 401.4,688.5 402.6,688.1 403.8,687.7 405,687.3 406.4,687 407.7,686.7 409.2,686.4 410.6,686.2 412.1,686 413.6,685.8 415.1,685.7 416.7,685.6 418.2,685.6 419.8,685.6 421.3,685.6 422.8,685.7 424.3,685.9 425.8,686 427.3,686.2 428.7,686.5 430,686.7 431.4,687 432.6,687.4 433.8,687.8 434.9,688.2 436,688.6 437,689.1 437.9,689.6 438.7,690.1 439.4,690.6 440.1,691.2 440.6,691.7 441.1,692.3 441.4,692.9 441.7,693.5 441.8,694.2 441.9,694.8 447.2,883.4 447.2,884.1 447,884.8 446.8,885.5 446.4,886.2 446,886.9 445.5,887.6 444.8,888.2 444.1,888.9 443.3,889.5 442.4,890.1 441.4,890.6 440.4,891.2 439.3,891.7 438.1,892.2 436.8,892.6 435.5,893 434.1,893.3 432.7,893.6 431.3,893.9 429.8,894.1 428.3,894.3 426.8,894.4 425.3,894.5 423.7,894.6 422.2,894.5 420.6,894.5 419.1,894.4 417.6,894.2 416.2,894 414.7,893.8 413.3,893.5 412,893.2 410.7,892.8 409.4,892.4 408.2,891.9 407.1,891.5 406.1,890.9 405.1,890.4 404.3,889.8 403.5,889.2 402.8,888.6 402.1,887.9 401.6,887.3 401.2,886.6 400.9,885.9 400.6,885.2 400.5,884.5 400.5,883.8" fill="none" stroke="#ff0000" stroke-width="0.8" stroke-opacity="0.8"/>
<polygon points="439.4,690.6 440.1,691.2 440.6,691.7 441.1,692.3 441.4,692.9 441.7,693.5 441.8,694.2 441.9,694.8 441.9,695.4 441.7,696 441.4,696.6 441.1,697.2 440.6,697.8 440.1,698.4 439.4,699 438.7,699.6 437.9,700.1 437,700.6 436,701.1 434.9,701.6 433.7,702 432.5,702.4 431.2,702.8 429.9,703.2 428.5,703.5 427.1,703.8 425.6,704 424.1,704.2 422.6,704.3 421,704.5 419.4,704.5 417.9,704.6 416.3,704.6 414.7,704.5 413.2,704.4 411.7,704.3 410.2,704.1 408.7,703.9 407.3,703.7 405.9,703.4 404.6,703.1 403.3,702.7 402.1,702.3 401,701.9 399.9,701.5 398.9,701 398,700.5 397.2,700 396.5,699.4 395.9,698.9 395.3,698.3 394.9,697.7 394.6,697.1 394.4,696.5 394.2,695.8 394.2,695.2 394.3,694.6 394.5,694 394.7,693.4 395.1,692.8 395.6,692.2 396.2,691.6 396.8,691 397.6,690.5 398.4,689.9 399.3,689.4 400.3,688.9 401.4,688.5 402.6,688.1 403.8,687.7 405,687.3 406.4,687 407.7,686.7 409.2,686.4 410.6,686.2 412.1,686 413.6,685.8 415.1,685.7 416.7,685.6 418.2,685.6 419.8,685.6 421.3,685.6 422.8,685.7 424.3,685.9 425.8,686 427.3,686.2 428.7,686.5 430,686.7 431.4,687 432.6,687.4 433.8,687.8 434.9,688.2 436,688.6 437,689.1 437.9,689.6 438.7,690.1" fill="url(#g38)" stroke="#ff2020" stroke-width="1.1"/>
<polygon points="434.8,616.2 434.8,615.6 435,615 435.2,614.5 435.6,613.9 436,613.3 436.5,612.8 437.2,612.3 437.9,611.8 438.7,611.3 439.5,610.8 440.5,610.4 441.5,610 442.6,609.6 443.8,609.2 445.1,608.8 446.3,608.5 447.7,608.3 449.1,608 450.5,607.8 451.9,607.6 453.4,607.5 454.9,607.4 456.4,607.3 458,607.3 459.5,607.3 461,607.4 462.5,607.4 464,607.6 465.5,607.7 466.9,607.9 468.3,608.1 469.7,608.4 471,608.7 472.2,609 473.4,609.3 474.6,609.7 475.6,610.1 476.6,610.6 477.6,611 478.4,611.5 479.1,612 479.8,612.5 480.4,613 480.9,613.6 481.2,614.1 481.5,614.7 481.7,615.3 481.8,615.8 483.5,686.2 483.4,686.8 483.3,687.4 483.1,688.1 482.8,688.6 482.4,689.2 481.9,689.8 481.3,690.4 480.6,690.9 479.8,691.5 479,692 478,692.4 477,692.9 475.9,693.3 474.7,693.7 473.5,694.1 472.2,694.4 470.9,694.7 469.5,695 468,695.2 466.6,695.4 465.1,695.6 463.6,695.7 462,695.7 460.5,695.8 459,695.8 457.4,695.7 455.9,695.6 454.4,695.5 452.9,695.3 451.5,695.1 450.1,694.9 448.7,694.6 447.4,694.3 446.1,693.9 444.9,693.5 443.8,693.1 442.8,692.7 441.8,692.2 440.9,691.7 440,691.2 439.3,690.6 438.7,690.1 438.1,689.5 437.7,688.9 437.3,688.3 437,687.7 436.9,687.1 436.8,686.5" fill="url(#g39)"/>
<polygon points="479.1,612 479.8,612.5 480.4,613 480.9,613.6 481.2,614.1 481.5,614.7 481.7,615.3 481.8,615.8 481.8,616.4 481.7,617 481.5,617.6 481.1,618.1 480.7,618.7 480.2,619.2 479.6,619.7 478.9,620.3 478.1,620.8 477.3,621.2 476.3,621.7 475.3,622.1 474.2,622.5 473,622.9 471.7,623.3 470.4,623.6 469.1,623.9 467.7,624.1 466.3,624.3 464.8,624.5 463.3,624.6 461.7,624.8 460.2,624.8 458.7,624.8 457.1,624.8 455.6,624.8 454,624.7 452.5,624.6 451,624.4 449.6,624.2 448.1,624 446.8,623.7 445.4,623.4 444.2,623.1 443,622.7 441.8,622.4 440.8,621.9 439.8,621.5 438.9,621 438,620.5 437.3,620 436.7,619.5 436.1,619 435.6,618.4 435.3,617.9 435,617.3 434.9,616.7 434.8,616.2 434.8,615.6 435,615 435.2,614.5 435.6,613.9 436,613.3 436.5,612.8 437.2,612.3 437.9,611.8 438.7,611.3 439.5,610.8 440.5,610.4 441.5,610 442.6,609.6 443.8,609.2 445.1,608.8 446.3,608.5 447.7,608.3 449.1,608 450.5,607.8 451.9,607.6 453.4,607.5 454.9,607.4 456.4,607.3 458,607.3 459.5,607.3 461,607.4 462.5,607.4 464,607.6 465.5,607.7 466.9,607.9 468.3,608.1 469.7,608.4 471,608.7 472.2,609 473.4,609.3 474.6,609.7 475.6,610.1 476.6,610.6 477.6,611 478.4,611.5" fill="url(#g40)"/>
<polyline points="481.8,615.8 481.8,616.4 481.7,617 481.5,617.6 481.1,618.1 480.7,618.7 480.2,619.2 479.6,619.7 478.9,620.3 478.1,620.8 477.3,621.2 476.3,621.7 475.3,622.1 474.2,622.5 473,622.9 471.7,623.3 470.4,623.6 469.1,623.9 467.7,624.1 466.3,624.3 464.8,624.5 463.3,624.6 461.7,624.8 460.2,624.8 458.7,624.8 457.1,624.8 455.6,624.8 454,624.7 452.5,624.6 451,624.4 449.6,624.2 448.1,624 446.8,623.7 445.4,623.4 444.2,623.1 443,622.7 441.8,622.4 440.8,621.9 439.8,621.5 438.9,621 438,620.5 437.3,620 436.7,619.5 436.1,619 435.6,618.4 435.3,617.9 435,617.3 434.9,616.7 434.8,616.2" fill="none" stroke="#fff" stroke-width="1.6"/>
<polyline points="250,355 278.2,348.8" fill="none" stroke="#000" stroke-width="2.7" stroke-linecap="round"/>
<polyline points="317.1,340.4 339.5,335.5" fill="none" stroke="#000" stroke-width="2.7" stroke-linecap="round"/>
<polyline points="339.5,335.5 341.2,331" fill="none" stroke="#000" stroke-width="2.7" stroke-linecap="round"/>
<polyline points="354,297.2 354.6,295.5" fill="none" stroke="#000" stroke-width="2.7" stroke-linecap="round"/>
<polyline points="354.6,295.5 368.2,240.7" fill="none" stroke="#000" stroke-width="2.7" stroke-linecap="round"/>
<polyline points="380.4,191.4 380.8,189.8" fill="none" stroke="#000" stroke-width="2.7" stroke-linecap="round"/>
<polyline points="337,414.3 600.3,347.5" fill="none" stroke="#000" stroke-width="3.0" stroke-linecap="round"/>
<polyline points="600.3,347.5 619.8,177.8" fill="none" stroke="#000" stroke-width="3.0" stroke-linecap="round"/>
<polyline points="633,62.4 633.2,60.9" fill="none" stroke="#000" stroke-width="3.0" stroke-linecap="round"/>
<polyline points="633.2,60.9 649.7,59" fill="none" stroke="#000" stroke-width="2.4" stroke-linecap="round"/>
<polyline points="649.7,59 666.2,57.3" fill="none" stroke="#000" stroke-width="2.4" stroke-linecap="round"/>
<polyline points="458.3,616 749.3,547.1" fill="none" stroke="#000" stroke-width="3.6" stroke-linecap="round"/>
<polyline points="749.3,547.1 793,538.5" fill="none" stroke="#000" stroke-width="3.6" stroke-linecap="round"/>
<polyline points="793,538.5 794.9,539.9" fill="none" stroke="#000" stroke-width="3.6" stroke-linecap="round"/>
<polyline points="815.5,554.9 886.8,607" fill="none" stroke="#000" stroke-width="3.6" stroke-linecap="round"/>
<polyline points="886.8,607 888.6,608.3" fill="none" stroke="#000" stroke-width="3.6" stroke-linecap="round"/>
<polyline points="908.1,622.7 914,627" fill="none" stroke="#000" stroke-width="3.6" stroke-linecap="round"/>
<polyline points="914,627 923.2,626.8" fill="none" stroke="#000" stroke-width="3.6" stroke-linecap="round"/>
<polyline points="934.1,626.5 982.5,625.3" fill="none" stroke="#000" stroke-width="3.6" stroke-linecap="round"/>
<line x1="144.3" y1="684.3" x2="106.4" y2="55.6" stroke="#000" stroke-width="3" stroke-linecap="square"/>
<line x1="144.3" y1="684.3" x2="131.6" y2="686.7" stroke="#000" stroke-width="2.6"/>
<line x1="142.6" y1="654.7" x2="135.7" y2="656" stroke="#000" stroke-width="2.6"/>
<line x1="140.8" y1="625" x2="128" y2="627.4" stroke="#000" stroke-width="2.6"/>
<line x1="139" y1="595.1" x2="132.1" y2="596.3" stroke="#000" stroke-width="2.6"/>
<line x1="137.1" y1="565" x2="124.3" y2="567.2" stroke="#000" stroke-width="2.6"/>
<line x1="135.3" y1="534.7" x2="128.4" y2="535.9" stroke="#000" stroke-width="2.6"/>
<line x1="133.5" y1="504.2" x2="120.6" y2="506.3" stroke="#000" stroke-width="2.6"/>
<line x1="131.6" y1="473.5" x2="124.7" y2="474.6" stroke="#000" stroke-width="2.6"/>
<line x1="129.8" y1="442.7" x2="116.9" y2="444.6" stroke="#000" stroke-width="2.6"/>
<line x1="127.9" y1="411.6" x2="121" y2="412.6" stroke="#000" stroke-width="2.6"/>
<line x1="126" y1="380.3" x2="113.1" y2="382.1" stroke="#000" stroke-width="2.6"/>
<line x1="124.1" y1="348.8" x2="117.2" y2="349.7" stroke="#000" stroke-width="2.6"/>
<line x1="122.2" y1="317" x2="109.3" y2="318.8" stroke="#000" stroke-width="2.6"/>
<line x1="120.2" y1="285.1" x2="113.3" y2="286" stroke="#000" stroke-width="2.6"/>
<line x1="118.3" y1="253" x2="105.4" y2="254.6" stroke="#000" stroke-width="2.6"/>
<line x1="116.4" y1="220.6" x2="109.4" y2="221.4" stroke="#000" stroke-width="2.6"/>
<line x1="114.4" y1="188.1" x2="101.5" y2="189.5" stroke="#000" stroke-width="2.6"/>
<line x1="112.4" y1="155.3" x2="105.5" y2="156" stroke="#000" stroke-width="2.6"/>
<line x1="110.4" y1="122.3" x2="97.5" y2="123.6" stroke="#000" stroke-width="2.6"/>
<line x1="108.4" y1="89" x2="101.4" y2="89.7" stroke="#000" stroke-width="2.6"/>
<line x1="106.4" y1="55.6" x2="93.4" y2="56.7" stroke="#000" stroke-width="2.6"/>
<line x1="144.3" y1="684.3" x2="369.8" y2="912" stroke="#000" stroke-width="3.2" stroke-linecap="square"/>
<line x1="165.3" y1="705.4" x2="157.4" y2="707" stroke="#000" stroke-width="2.6"/>
<line x1="183.6" y1="724" x2="175.8" y2="725.5" stroke="#000" stroke-width="2.6"/>
<line x1="200.1" y1="740.6" x2="192.2" y2="742.2" stroke="#000" stroke-width="2.6"/>
<line x1="215" y1="755.6" x2="207.1" y2="757.2" stroke="#000" stroke-width="2.6"/>
<line x1="228.7" y1="769.4" x2="215.9" y2="772.1" stroke="#000" stroke-width="2.6"/>
<line x1="253.1" y1="794.1" x2="245.3" y2="795.8" stroke="#000" stroke-width="2.6"/>
<line x1="274.7" y1="815.9" x2="266.8" y2="817.6" stroke="#000" stroke-width="2.6"/>
<line x1="294" y1="835.4" x2="286.1" y2="837.1" stroke="#000" stroke-width="2.6"/>
<line x1="311.5" y1="853.1" x2="303.7" y2="854.9" stroke="#000" stroke-width="2.6"/>
<line x1="327.7" y1="869.4" x2="315" y2="872.4" stroke="#000" stroke-width="2.6"/>
<line x1="356.6" y1="898.7" x2="348.8" y2="900.5" stroke="#000" stroke-width="2.6"/>
<line x1="369.8" y1="912" x2="1005.7" y2="759.1" stroke="#000" stroke-width="2.9" stroke-linecap="square"/>
<line x1="387.9" y1="907.6" x2="392.2" y2="911.8" stroke="#000" stroke-width="1.7"/>
<line x1="405" y1="903.5" x2="411.8" y2="910.1" stroke="#000" stroke-width="2.2"/>
<line x1="421.2" y1="899.6" x2="425.5" y2="903.8" stroke="#000" stroke-width="1.7"/>
<line x1="436.6" y1="895.9" x2="440.9" y2="900.1" stroke="#000" stroke-width="1.7"/>
<line x1="451.1" y1="892.4" x2="455.5" y2="896.5" stroke="#000" stroke-width="1.7"/>
<line x1="465" y1="889.1" x2="469.5" y2="893.2" stroke="#000" stroke-width="1.7"/>
<line x1="478.3" y1="885.9" x2="482.7" y2="889.9" stroke="#000" stroke-width="1.7"/>
<line x1="491" y1="882.8" x2="495.5" y2="886.9" stroke="#000" stroke-width="1.7"/>
<line x1="503.2" y1="879.9" x2="507.6" y2="883.9" stroke="#000" stroke-width="1.7"/>
<line x1="514.8" y1="877.1" x2="519.3" y2="881.1" stroke="#000" stroke-width="1.7"/>
<line x1="526" y1="874.4" x2="530.5" y2="878.4" stroke="#000" stroke-width="1.7"/>
<line x1="536.8" y1="871.8" x2="544" y2="878.1" stroke="#000" stroke-width="2.2"/>
<line x1="547.2" y1="869.3" x2="551.8" y2="873.2" stroke="#000" stroke-width="1.7"/>
<line x1="557.2" y1="866.9" x2="561.8" y2="870.8" stroke="#000" stroke-width="1.7"/>
<line x1="566.9" y1="864.6" x2="571.5" y2="868.5" stroke="#000" stroke-width="1.7"/>
<line x1="576.3" y1="862.3" x2="580.9" y2="866.2" stroke="#000" stroke-width="1.7"/>
<line x1="585.4" y1="860.2" x2="590" y2="864" stroke="#000" stroke-width="1.7"/>
<line x1="594.1" y1="858.1" x2="598.8" y2="861.9" stroke="#000" stroke-width="1.7"/>
<line x1="602.7" y1="856" x2="607.3" y2="859.8" stroke="#000" stroke-width="1.7"/>
<line x1="610.9" y1="854" x2="615.6" y2="857.8" stroke="#000" stroke-width="1.7"/>
<line x1="618.9" y1="852.1" x2="623.6" y2="855.9" stroke="#000" stroke-width="1.7"/>
<line x1="626.7" y1="850.2" x2="634.2" y2="856.2" stroke="#000" stroke-width="2.2"/>
<line x1="634.3" y1="848.4" x2="639" y2="852.1" stroke="#000" stroke-width="1.7"/>
<line x1="641.7" y1="846.6" x2="646.4" y2="850.3" stroke="#000" stroke-width="1.7"/>
<line x1="648.9" y1="844.9" x2="653.6" y2="848.6" stroke="#000" stroke-width="1.7"/>
<line x1="655.9" y1="843.2" x2="660.6" y2="846.9" stroke="#000" stroke-width="1.7"/>
<line x1="662.7" y1="841.6" x2="667.5" y2="845.2" stroke="#000" stroke-width="1.7"/>
<line x1="669.4" y1="840" x2="674.2" y2="843.6" stroke="#000" stroke-width="1.7"/>
<line x1="675.9" y1="838.4" x2="680.7" y2="842.1" stroke="#000" stroke-width="1.7"/>
<line x1="682.3" y1="836.9" x2="687" y2="840.5" stroke="#000" stroke-width="1.7"/>
<line x1="688.5" y1="835.4" x2="693.3" y2="839" stroke="#000" stroke-width="1.7"/>
<line x1="694.6" y1="833.9" x2="702.1" y2="839.7" stroke="#000" stroke-width="2.2"/>
<line x1="700.5" y1="832.5" x2="705.3" y2="836.1" stroke="#000" stroke-width="1.7"/>
<line x1="706.3" y1="831.1" x2="711.1" y2="834.7" stroke="#000" stroke-width="1.7"/>
<line x1="712" y1="829.7" x2="716.8" y2="833.3" stroke="#000" stroke-width="1.7"/>
<line x1="717.6" y1="828.4" x2="722.4" y2="832" stroke="#000" stroke-width="1.7"/>
<line x1="723" y1="827.1" x2="727.8" y2="830.6" stroke="#000" stroke-width="1.7"/>
<line x1="728.4" y1="825.8" x2="733.2" y2="829.4" stroke="#000" stroke-width="1.7"/>
<line x1="733.6" y1="824.5" x2="738.4" y2="828.1" stroke="#000" stroke-width="1.7"/>
<line x1="738.7" y1="823.3" x2="743.6" y2="826.8" stroke="#000" stroke-width="1.7"/>
<line x1="743.8" y1="822.1" x2="748.6" y2="825.6" stroke="#000" stroke-width="1.7"/>
<line x1="748.7" y1="820.9" x2="756.4" y2="826.5" stroke="#000" stroke-width="2.2"/>
<line x1="753.6" y1="819.7" x2="758.5" y2="823.2" stroke="#000" stroke-width="1.7"/>
<line x1="758.4" y1="818.6" x2="763.3" y2="822.1" stroke="#000" stroke-width="1.7"/>
<line x1="763.1" y1="817.5" x2="767.9" y2="820.9" stroke="#000" stroke-width="1.7"/>
<line x1="767.7" y1="816.3" x2="772.6" y2="819.8" stroke="#000" stroke-width="1.7"/>
<line x1="772.2" y1="815.3" x2="777.1" y2="818.7" stroke="#000" stroke-width="1.7"/>
<line x1="776.7" y1="814.2" x2="781.5" y2="817.7" stroke="#000" stroke-width="1.7"/>
<line x1="781" y1="813.1" x2="785.9" y2="816.6" stroke="#000" stroke-width="1.7"/>
<line x1="785.3" y1="812.1" x2="790.2" y2="815.6" stroke="#000" stroke-width="1.7"/>
<line x1="789.6" y1="811.1" x2="794.5" y2="814.5" stroke="#000" stroke-width="1.7"/>
<line x1="793.7" y1="810.1" x2="801.5" y2="815.5" stroke="#000" stroke-width="2.2"/>
<line x1="797.8" y1="809.1" x2="802.8" y2="812.5" stroke="#000" stroke-width="1.7"/>
<line x1="801.9" y1="808.1" x2="806.8" y2="811.5" stroke="#000" stroke-width="1.7"/>
<line x1="805.9" y1="807.2" x2="810.8" y2="810.6" stroke="#000" stroke-width="1.7"/>
<line x1="809.8" y1="806.2" x2="814.7" y2="809.6" stroke="#000" stroke-width="1.7"/>
<line x1="813.6" y1="805.3" x2="818.6" y2="808.7" stroke="#000" stroke-width="1.7"/>
<line x1="817.4" y1="804.4" x2="822.4" y2="807.8" stroke="#000" stroke-width="1.7"/>
<line x1="821.2" y1="803.5" x2="826.1" y2="806.9" stroke="#000" stroke-width="1.7"/>
<line x1="824.9" y1="802.6" x2="829.8" y2="806" stroke="#000" stroke-width="1.7"/>
<line x1="828.5" y1="801.7" x2="833.5" y2="805.1" stroke="#000" stroke-width="1.7"/>
<line x1="832.1" y1="800.9" x2="840" y2="806.2" stroke="#000" stroke-width="2.2"/>
<line x1="835.7" y1="800" x2="840.6" y2="803.4" stroke="#000" stroke-width="1.7"/>
<line x1="839.2" y1="799.2" x2="844.1" y2="802.5" stroke="#000" stroke-width="1.7"/>
<line x1="842.6" y1="798.3" x2="847.6" y2="801.7" stroke="#000" stroke-width="1.7"/>
<line x1="846" y1="797.5" x2="851" y2="800.9" stroke="#000" stroke-width="1.7"/>
<line x1="849.4" y1="796.7" x2="854.4" y2="800" stroke="#000" stroke-width="1.7"/>
<line x1="852.7" y1="795.9" x2="857.7" y2="799.2" stroke="#000" stroke-width="1.7"/>
<line x1="856" y1="795.1" x2="860.9" y2="798.5" stroke="#000" stroke-width="1.7"/>
<line x1="859.2" y1="794.4" x2="864.2" y2="797.7" stroke="#000" stroke-width="1.7"/>
<line x1="862.4" y1="793.6" x2="867.4" y2="796.9" stroke="#000" stroke-width="1.7"/>
<line x1="865.5" y1="792.8" x2="873.5" y2="798.1" stroke="#000" stroke-width="2.2"/>
<line x1="868.6" y1="792.1" x2="873.6" y2="795.4" stroke="#000" stroke-width="1.7"/>
<line x1="871.7" y1="791.3" x2="876.7" y2="794.6" stroke="#000" stroke-width="1.7"/>
<line x1="874.8" y1="790.6" x2="879.8" y2="793.9" stroke="#000" stroke-width="1.7"/>
<line x1="877.8" y1="789.9" x2="882.8" y2="793.2" stroke="#000" stroke-width="1.7"/>
<line x1="880.7" y1="789.2" x2="885.7" y2="792.5" stroke="#000" stroke-width="1.7"/>
<line x1="883.7" y1="788.5" x2="888.7" y2="791.7" stroke="#000" stroke-width="1.7"/>
<line x1="886.6" y1="787.8" x2="891.6" y2="791" stroke="#000" stroke-width="1.7"/>
<line x1="889.4" y1="787.1" x2="894.5" y2="790.3" stroke="#000" stroke-width="1.7"/>
<line x1="892.3" y1="786.4" x2="897.3" y2="789.7" stroke="#000" stroke-width="1.7"/>
<line x1="895.1" y1="785.7" x2="903" y2="790.9" stroke="#000" stroke-width="2.2"/>
<line x1="897.8" y1="785.1" x2="902.9" y2="788.3" stroke="#000" stroke-width="1.7"/>
<line x1="900.6" y1="784.4" x2="905.6" y2="787.6" stroke="#000" stroke-width="1.7"/>
<line x1="903.3" y1="783.8" x2="908.3" y2="787" stroke="#000" stroke-width="1.7"/>
<line x1="906" y1="783.1" x2="911" y2="786.3" stroke="#000" stroke-width="1.7"/>
<line x1="908.6" y1="782.5" x2="913.7" y2="785.7" stroke="#000" stroke-width="1.7"/>
<line x1="911.2" y1="781.8" x2="916.3" y2="785.1" stroke="#000" stroke-width="1.7"/>
<line x1="913.8" y1="781.2" x2="918.9" y2="784.4" stroke="#000" stroke-width="1.7"/>
<line x1="916.4" y1="780.6" x2="921.5" y2="783.8" stroke="#000" stroke-width="1.7"/>
<line x1="919" y1="780" x2="924" y2="783.2" stroke="#000" stroke-width="1.7"/>
<line x1="921.5" y1="779.4" x2="929.5" y2="784.5" stroke="#000" stroke-width="2.2"/>
<line x1="924" y1="778.8" x2="929.1" y2="782" stroke="#000" stroke-width="1.7"/>
<line x1="926.5" y1="778.2" x2="931.5" y2="781.4" stroke="#000" stroke-width="1.7"/>
<line x1="928.9" y1="777.6" x2="934" y2="780.8" stroke="#000" stroke-width="1.7"/>
<line x1="931.3" y1="777" x2="936.4" y2="780.2" stroke="#000" stroke-width="1.7"/>
<line x1="933.7" y1="776.4" x2="938.8" y2="779.6" stroke="#000" stroke-width="1.7"/>
<line x1="936.1" y1="775.9" x2="941.2" y2="779" stroke="#000" stroke-width="1.7"/>
<line x1="938.5" y1="775.3" x2="943.5" y2="778.5" stroke="#000" stroke-width="1.7"/>
<line x1="940.8" y1="774.7" x2="945.9" y2="777.9" stroke="#000" stroke-width="1.7"/>
<line x1="943.1" y1="774.2" x2="948.2" y2="777.4" stroke="#000" stroke-width="1.7"/>
<line x1="945.4" y1="773.6" x2="953.5" y2="778.6" stroke="#000" stroke-width="2.2"/>
<line x1="947.7" y1="773.1" x2="952.8" y2="776.2" stroke="#000" stroke-width="1.7"/>
<line x1="949.9" y1="772.5" x2="955" y2="775.7" stroke="#000" stroke-width="1.7"/>
<line x1="952.1" y1="772" x2="957.2" y2="775.2" stroke="#000" stroke-width="1.7"/>
<line x1="954.3" y1="771.5" x2="959.4" y2="774.6" stroke="#000" stroke-width="1.7"/>
<line x1="956.5" y1="771" x2="961.6" y2="774.1" stroke="#000" stroke-width="1.7"/>
<line x1="958.7" y1="770.4" x2="963.8" y2="773.6" stroke="#000" stroke-width="1.7"/>
<line x1="960.9" y1="769.9" x2="966" y2="773.1" stroke="#000" stroke-width="1.7"/>
<line x1="963" y1="769.4" x2="968.1" y2="772.5" stroke="#000" stroke-width="1.7"/>
<line x1="965.1" y1="768.9" x2="970.2" y2="772" stroke="#000" stroke-width="1.7"/>
<line x1="967.2" y1="768.4" x2="975.3" y2="773.3" stroke="#000" stroke-width="2.2"/>
<line x1="969.3" y1="767.9" x2="974.4" y2="771" stroke="#000" stroke-width="1.7"/>
<line x1="971.3" y1="767.4" x2="976.5" y2="770.5" stroke="#000" stroke-width="1.7"/>
<line x1="973.4" y1="766.9" x2="978.5" y2="770" stroke="#000" stroke-width="1.7"/>
<line x1="975.4" y1="766.4" x2="980.5" y2="769.5" stroke="#000" stroke-width="1.7"/>
<line x1="977.4" y1="765.9" x2="982.5" y2="769" stroke="#000" stroke-width="1.7"/>
<line x1="979.4" y1="765.5" x2="984.5" y2="768.6" stroke="#000" stroke-width="1.7"/>
<line x1="981.4" y1="765" x2="986.5" y2="768.1" stroke="#000" stroke-width="1.7"/>
<line x1="983.3" y1="764.5" x2="988.5" y2="767.6" stroke="#000" stroke-width="1.7"/>
<line x1="985.3" y1="764" x2="990.4" y2="767.1" stroke="#000" stroke-width="1.7"/>
<line x1="987.2" y1="763.6" x2="995.4" y2="768.5" stroke="#000" stroke-width="2.2"/>
<line x1="989.1" y1="763.1" x2="994.3" y2="766.2" stroke="#000" stroke-width="1.7"/>
<line x1="991" y1="762.7" x2="996.2" y2="765.8" stroke="#000" stroke-width="1.7"/>
<line x1="992.9" y1="762.2" x2="998.1" y2="765.3" stroke="#000" stroke-width="1.7"/>
<line x1="994.8" y1="761.8" x2="999.9" y2="764.8" stroke="#000" stroke-width="1.7"/>
<line x1="996.6" y1="761.3" x2="1001.8" y2="764.4" stroke="#000" stroke-width="1.7"/>
<line x1="998.5" y1="760.9" x2="1003.6" y2="763.9" stroke="#000" stroke-width="1.7"/>
<line x1="1000.3" y1="760.4" x2="1005.5" y2="763.5" stroke="#000" stroke-width="1.7"/>
<line x1="1002.1" y1="760" x2="1007.3" y2="763.1" stroke="#000" stroke-width="1.7"/>
<line x1="1003.9" y1="759.6" x2="1009.1" y2="762.6" stroke="#000" stroke-width="1.7"/>
<line x1="1005.7" y1="759.1" x2="1013.9" y2="764" stroke="#000" stroke-width="2.2"/>
<rect x="687.6" y="71.8" width="344.4" height="250.4" fill="#fff" stroke="#444" stroke-width="1.3"/>
<rect x="693.3" y="76.5" width="62" height="28.2" fill="url(#g41)"/>
<rect x="693" y="110.3" width="63.5" height="30.8" fill="url(#g42)" stroke="#0000ff" stroke-width="1.3"/>
<rect x="693.3" y="147" width="62" height="28.2" fill="url(#g43)"/>
<rect x="693" y="181" width="63.5" height="30.8" fill="url(#g44)" stroke="#40a840" stroke-width="1.3"/>
<rect x="693.3" y="217.1" width="62" height="28.2" fill="url(#g45)"/>
<rect x="693" y="251.5" width="63.5" height="30.8" fill="url(#g46)" stroke="#ff4848" stroke-width="1.3"/>
<line x1="691.3" y1="301.9" x2="759" y2="301.9" stroke="#000" stroke-width="3.4"/>
<text x="765.5" y="99.6" class="lg">0.63 GPa</text>
<text x="765.5" y="134.4" class="lg">0.63 GPa Quenched</text>
<path class="onel" transform="translate(765.5,170) scale(0.014014,-0.014014)" d="M762 0H582V1147Q517 1085 412 1023Q307 961 223 930V1104Q368 1172 477 1269Q586 1366 631 1466H762Z"/>
<text x="781.5" y="170" class="lg">.</text>
<path class="onel" transform="translate(789.4,170) scale(0.014014,-0.014014)" d="M762 0H582V1147Q517 1085 412 1023Q307 961 223 930V1104Q368 1172 477 1269Q586 1366 631 1466H762Z"/>
<text x="805.4" y="170" class="lg">5 GPa</text>
<path class="onel" transform="translate(765.5,205) scale(0.014014,-0.014014)" d="M762 0H582V1147Q517 1085 412 1023Q307 961 223 930V1104Q368 1172 477 1269Q586 1366 631 1466H762Z"/>
<text x="781.5" y="205" class="lg">.</text>
<path class="onel" transform="translate(789.4,205) scale(0.014014,-0.014014)" d="M762 0H582V1147Q517 1085 412 1023Q307 961 223 930V1104Q368 1172 477 1269Q586 1366 631 1466H762Z"/>
<text x="805.4" y="205" class="lg">5 GPa Quenched</text>
<text x="765.5" y="240.4" class="lg">2.4</text>
<path class="onel" transform="translate(805.4,240.4) scale(0.014014,-0.014014)" d="M762 0H582V1147Q517 1085 412 1023Q307 961 223 930V1104Q368 1172 477 1269Q586 1366 631 1466H762Z"/>
<text x="829.3" y="240.4" class="lg">GPa</text>
<text x="765.5" y="275.6" class="lg">2.4</text>
<path class="onel" transform="translate(805.4,275.6) scale(0.014014,-0.014014)" d="M762 0H582V1147Q517 1085 412 1023Q307 961 223 930V1104Q368 1172 477 1269Q586 1366 631 1466H762Z"/>
<text x="829.3" y="275.6" class="lg">GPa Quenched</text>
<text x="765.5" y="311.2" class="lg">heating sequence</text>
<text transform="matrix(1.3456,-0.2625,0.0839,1.2809,90.1,702.3)" class="t3">0</text>
<text transform="matrix(1.3407,-0.2615,0.0822,1.2788,105.1,699.4)" class="t3">.</text>
<text transform="matrix(1.3357,-0.2606,0.0805,1.2768,112.5,697.9)" class="t3">0</text>
<text transform="matrix(1.3108,-0.2427,0.0849,1.2974,87.2,642.3)" class="t3">0</text>
<text transform="matrix(1.3061,-0.2419,0.0832,1.2954,101.7,639.6)" class="t3">.</text>
<path class="one" transform="matrix(1.3015,-0.2410,0.0816,1.2933,109,638.3) scale(0.009766,-0.009766)" d="M762 0H582V1147Q517 1085 412 1023Q307 961 223 930V1104Q368 1172 477 1269Q586 1366 631 1466H762Z"/>
<text transform="matrix(1.3203,-0.2313,0.0861,1.3144,82.9,581.9)" class="t3">0</text>
<text transform="matrix(1.3156,-0.2304,0.0844,1.3123,97.6,579.3)" class="t3">.</text>
<text transform="matrix(1.3108,-0.2296,0.0827,1.3102,104.9,578)" class="t3">2</text>
<text transform="matrix(1.3299,-0.2195,0.0872,1.3318,78.7,520.7)" class="t3">0</text>
<text transform="matrix(1.3251,-0.2187,0.0855,1.3296,93.5,518.3)" class="t3">.</text>
<text transform="matrix(1.3203,-0.2179,0.0838,1.3275,100.8,517)" class="t3">3</text>
<text transform="matrix(1.3397,-0.2074,0.0884,1.3494,74.3,458.8)" class="t3">0</text>
<text transform="matrix(1.3348,-0.2067,0.0867,1.3472,89.2,456.4)" class="t3">.</text>
<text transform="matrix(1.3300,-0.2059,0.0849,1.3450,96.6,455.3)" class="t3">4</text>
<text transform="matrix(1.3496,-0.1950,0.0896,1.3674,69.9,396.1)" class="t3">0</text>
<text transform="matrix(1.3446,-0.1943,0.0879,1.3651,85,393.9)" class="t3">.</text>
<text transform="matrix(1.3397,-0.1936,0.0861,1.3629,92.4,392.8)" class="t3">5</text>
<text transform="matrix(1.3596,-0.1822,0.0909,1.3858,65.5,332.6)" class="t3">0</text>
<text transform="matrix(1.3546,-0.1816,0.0891,1.3834,80.6,330.5)" class="t3">.</text>
<text transform="matrix(1.3496,-0.1809,0.0873,1.3811,88.2,329.5)" class="t3">6</text>
<text transform="matrix(1.3697,-0.1691,0.0921,1.4045,61,268.3)" class="t3">0</text>
<text transform="matrix(1.3647,-0.1685,0.0903,1.4020,76.2,266.4)" class="t3">.</text>
<text transform="matrix(1.3596,-0.1679,0.0885,1.3996,83.8,265.5)" class="t3">7</text>
<text transform="matrix(1.3800,-0.1557,0.0934,1.4235,56.5,203.2)" class="t3">0</text>
<text transform="matrix(1.3749,-0.1551,0.0916,1.4210,71.8,201.5)" class="t3">.</text>
<text transform="matrix(1.3698,-0.1545,0.0897,1.4186,79.4,200.6)" class="t3">8</text>
<text transform="matrix(1.3905,-0.1418,0.0947,1.4429,51.8,137.3)" class="t3">0</text>
<text transform="matrix(1.3853,-0.1413,0.0928,1.4404,67.3,135.7)" class="t3">.</text>
<text transform="matrix(1.3801,-0.1408,0.0910,1.4379,75,135)" class="t3">9</text>
<path class="one" transform="matrix(1.4011,-0.1276,0.0961,1.4627,47.2,70.6) scale(0.009766,-0.009766)" d="M762 0H582V1147Q517 1085 412 1023Q307 961 223 930V1104Q368 1172 477 1269Q586 1366 631 1466H762Z"/>
<text transform="matrix(1.3958,-0.1271,0.0941,1.4601,62.8,69.2)" class="t3">.</text>
<text transform="matrix(1.3905,-0.1267,0.0922,1.4575,70.5,68.4)" class="t3">0</text>
<text transform="matrix(1.3637,-0.2645,0.0214,0.3259,89.2,695.7)" class="t3">0</text>
<text transform="matrix(1.3586,-0.2635,0.0209,0.3254,104.4,692.7)" class="t3">.</text>
<text transform="matrix(1.3536,-0.2625,0.0205,0.3248,111.9,691.3)" class="t3">0</text>
<text transform="matrix(0.6679,0.6586,-1.4681,0.3572,404.9,915.9)" class="t3">2</text>
<text transform="matrix(0.6755,0.6661,-1.4746,0.3611,412.4,923.2)" class="t3">0</text>
<text transform="matrix(0.7186,0.6274,-1.4014,0.3409,537.9,883.6)" class="t3">3</text>
<text transform="matrix(0.7266,0.6344,-1.4071,0.3446,545.9,890.6)" class="t3">0</text>
<text transform="matrix(0.7514,0.6065,-1.3567,0.3301,628.7,861.6)" class="t3">4</text>
<text transform="matrix(0.7597,0.6132,-1.3621,0.3335,637,868.4)" class="t3">0</text>
<text transform="matrix(0.7752,0.5910,-1.3236,0.3220,697.1,845)" class="t3">5</text>
<text transform="matrix(0.7836,0.5974,-1.3286,0.3253,705.7,851.6)" class="t3">0</text>
<text transform="matrix(0.7936,0.5788,-1.2973,0.3156,751.7,831.8)" class="t3">6</text>
<text transform="matrix(0.8021,0.5850,-1.3021,0.3188,760.5,838.2)" class="t3">0</text>
<text transform="matrix(0.8085,0.5688,-1.2758,0.3104,797.1,820.8)" class="t3">7</text>
<text transform="matrix(0.8170,0.5748,-1.2804,0.3135,806.1,827.1)" class="t3">0</text>
<text transform="matrix(0.8209,0.5602,-1.2575,0.3059,835.8,811.4)" class="t3">8</text>
<text transform="matrix(0.8295,0.5661,-1.2620,0.3090,844.9,817.6)" class="t3">0</text>
<text transform="matrix(0.8314,0.5529,-1.2418,0.3021,869.4,803.2)" class="t3">9</text>
<text transform="matrix(0.8401,0.5587,-1.2461,0.3051,878.7,809.4)" class="t3">0</text>
<path class="one" transform="matrix(0.8406,0.5464,-1.2279,0.2987,899.2,796) scale(0.009766,-0.009766)" d="M762 0H582V1147Q517 1085 412 1023Q307 961 223 930V1104Q368 1172 477 1269Q586 1366 631 1466H762Z"/>
<text transform="matrix(0.8494,0.5521,-1.2321,0.3017,908.6,802.1)" class="t3">0</text>
<text transform="matrix(0.8583,0.5579,-1.2363,0.3047,918,808.2)" class="t3">0</text>
<path class="one" transform="matrix(0.8487,0.5407,-1.2156,0.2957,925.8,789.6) scale(0.009766,-0.009766)" d="M762 0H582V1147Q517 1085 412 1023Q307 961 223 930V1104Q368 1172 477 1269Q586 1366 631 1466H762Z"/>
<path class="one" transform="matrix(0.8563,0.5455,-1.2191,0.2983,934,794.8) scale(0.009766,-0.009766)" d="M762 0H582V1147Q517 1085 412 1023Q307 961 223 930V1104Q368 1172 477 1269Q586 1366 631 1466H762Z"/>
<text transform="matrix(0.8652,0.5512,-1.2232,0.3012,943.5,800.8)" class="t3">0</text>
<path class="one" transform="matrix(0.8559,0.5355,-1.2045,0.2930,949.9,783.7) scale(0.009766,-0.009766)" d="M762 0H582V1147Q517 1085 412 1023Q307 961 223 930V1104Q368 1172 477 1269Q586 1366 631 1466H762Z"/>
<text transform="matrix(0.8647,0.5410,-1.2085,0.2959,959.5,789.7)" class="t3">2</text>
<text transform="matrix(0.8737,0.5466,-1.2125,0.2988,969.1,795.7)" class="t3">0</text>
<path class="one" transform="matrix(0.8624,0.5308,-1.1944,0.2906,971.9,778.4) scale(0.009766,-0.009766)" d="M762 0H582V1147Q517 1085 412 1023Q307 961 223 930V1104Q368 1172 477 1269Q586 1366 631 1466H762Z"/>
<text transform="matrix(0.8712,0.5363,-1.1983,0.2934,981.5,784.3)" class="t3">3</text>
<text transform="matrix(0.8802,0.5418,-1.2022,0.2963,991.2,790.3)" class="t3">0</text>
<path class="one" transform="matrix(0.8683,0.5265,-1.1852,0.2883,992.1,773.5) scale(0.009766,-0.009766)" d="M762 0H582V1147Q517 1085 412 1023Q307 961 223 930V1104Q368 1172 477 1269Q586 1366 631 1466H762Z"/>
<text transform="matrix(0.8772,0.5319,-1.1890,0.2911,1001.7,779.4)" class="t3">4</text>
<text transform="matrix(0.8862,0.5374,-1.1928,0.2940,1011.5,785.3)" class="t3">0</text>
<path class="one" transform="matrix(0.8736,0.5226,-1.1767,0.2863,1010.7,769) scale(0.009766,-0.009766)" d="M762 0H582V1147Q517 1085 412 1023Q307 961 223 930V1104Q368 1172 477 1269Q586 1366 631 1466H762Z"/>
<text transform="matrix(0.8825,0.5279,-1.1804,0.2890,1020.4,774.8)" class="t3">5</text>
<text transform="matrix(0.8916,0.5333,-1.1842,0.2919,1030.3,780.7)" class="t3">0</text>
<path class="one" transform="matrix(1.3585,-0.2876,0.5674,0.5907,197.1,781.2) scale(0.009766,-0.009766)" d="M762 0H582V1147Q517 1085 412 1023Q307 961 223 930V1104Q368 1172 477 1269Q586 1366 631 1466H762Z"/>
<text transform="matrix(1.4536,-0.3379,0.6718,0.6991,294.9,883.3)" class="t3">2</text>
<text transform="matrix(0.5395,0.6309,-1.7309,0.3465,110.1,763.8)" class="t3">P</text>
<text transform="matrix(0.5455,0.6379,-1.7389,0.3501,117.3,772.2)" class="t3">r</text>
<text transform="matrix(0.5509,0.6442,-1.7462,0.3535,120.9,776.5)" class="t3">e</text>
<text transform="matrix(0.5574,0.6518,-1.7548,0.3575,127,783.6)" class="t3">s</text>
<text transform="matrix(0.5637,0.6591,-1.7631,0.3613,132.6,790.1)" class="t3">s</text>
<text transform="matrix(0.5705,0.6670,-1.7720,0.3654,138.3,796.7)" class="t3">u</text>
<text transform="matrix(0.5763,0.6738,-1.7795,0.3690,144.6,804.1)" class="t3">r</text>
<text transform="matrix(0.5821,0.6807,-1.7871,0.3726,148.4,808.6)" class="t3">e</text>
<text transform="matrix(0.5919,0.6920,-1.7995,0.3785,158.2,820)" class="t3">(</text>
<text transform="matrix(0.5995,0.7010,-1.8092,0.3832,162.1,824.6)" class="t3">G</text>
<text transform="matrix(0.6097,0.7129,-1.8219,0.3894,171.5,835.5)" class="t3">P</text>
<text transform="matrix(0.6185,0.7232,-1.8328,0.3948,179.6,845)" class="t3">a</text>
<text transform="matrix(0.6250,0.7308,-1.8408,0.3988,186.5,853.1)" class="t3">)</text>
<text transform="matrix(1.7548,-0.4484,1.0074,0.8394,643,927.6)" class="t3">T</text>
<text transform="matrix(1.7443,-0.4458,1.0150,0.8342,660.5,923.1)" class="t3">e</text>
<text transform="matrix(1.7291,-0.4419,1.0260,0.8266,679.9,918.1)" class="t3">m</text>
<text transform="matrix(1.7141,-0.4380,1.0368,0.8191,708.7,910.8)" class="t3">p</text>
<text transform="matrix(1.7022,-0.4350,1.0452,0.8132,727.8,905.9)" class="t3">e</text>
<text transform="matrix(1.6928,-0.4326,1.0519,0.8085,746.7,901.1)" class="t3">r</text>
<text transform="matrix(1.6835,-0.4302,1.0584,0.8039,758,898.2)" class="t3">a</text>
<text transform="matrix(1.6748,-0.4280,1.0645,0.7996,776.7,893.4)" class="t3">t</text>
<text transform="matrix(1.6662,-0.4258,1.0705,0.7953,786.1,891)" class="t3">u</text>
<text transform="matrix(1.6571,-0.4235,1.0768,0.7907,804.6,886.3)" class="t3">r</text>
<text transform="matrix(1.6480,-0.4212,1.0831,0.7862,815.6,883.5)" class="t3">e</text>
<text transform="matrix(1.6335,-0.4174,1.0930,0.7790,843.1,876.4)" class="t3">(</text>
<text transform="matrix(1.6262,-0.4156,1.0980,0.7753,853.9,873.7)" class="t3">°</text>
<text transform="matrix(1.6151,-0.4127,1.1054,0.7698,867,870.3)" class="t3">C</text>
<text transform="matrix(1.6048,-0.4101,1.1124,0.7647,890.3,864.4)" class="t3">)</text>
<text transform="matrix(-0.1127,-1.6133,1.8084,-0.2919,45,515.5)" class="t3">C</text>
<text transform="matrix(-0.1133,-1.6216,1.8136,-0.2855,43.4,492.2)" class="t3">O</text>
<text transform="matrix(-0.0730,-1.0571,1.1786,-0.1819,48.9,465.8)" class="t3">2</text>
<text transform="matrix(-0.1143,-1.6363,1.8226,-0.2742,40.3,447.9)" class="t3">A</text>
<text transform="matrix(-0.1148,-1.6432,1.8269,-0.2688,38.8,426.1)" class="t3">d</text>
<text transform="matrix(-0.1152,-1.6492,1.8306,-0.2641,37.5,407.8)" class="t3">s</text>
<text transform="matrix(-0.1156,-1.6553,1.8343,-0.2594,36.4,391.3)" class="t3">o</text>
<text transform="matrix(-0.1160,-1.6604,1.8375,-0.2554,35.1,372.9)" class="t3">r</text>
<text transform="matrix(-0.1163,-1.6656,1.8406,-0.2514,34.3,361.9)" class="t3">p</text>
<text transform="matrix(-0.1167,-1.6704,1.8436,-0.2476,33,343.3)" class="t3">t</text>
<text transform="matrix(-0.1169,-1.6733,1.8454,-0.2454,32.4,334)" class="t3">i</text>
<text transform="matrix(-0.1172,-1.6779,1.8482,-0.2418,31.8,326.6)" class="t3">o</text>
<text transform="matrix(-0.1176,-1.6845,1.8522,-0.2366,30.5,307.9)" class="t3">n</text>
<text transform="matrix(-0.1182,-1.6930,1.8574,-0.2299,29.2,289.2)" class="t3">%</text>
</svg></body></html>
